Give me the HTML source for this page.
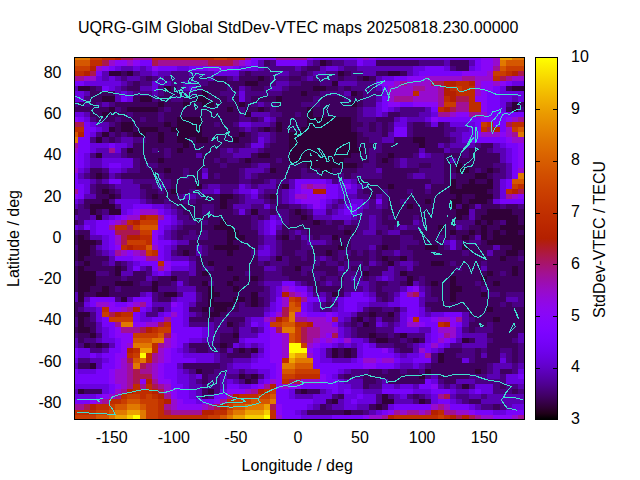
<!DOCTYPE html>
<html><head><meta charset="utf-8">
<style>
html,body{margin:0;padding:0;background:#fff;}
body{width:640px;height:480px;position:relative;overflow:hidden;font-family:"Liberation Sans",sans-serif;font-size:16px;color:#000;}
.t{position:absolute;white-space:nowrap;line-height:16px;height:16px;}
.yl{left:0;width:61.5px;text-align:right;}
.xl{width:60px;margin-left:-30px;text-align:center;top:430px;}
.cl{left:571px;}
#plot{position:absolute;left:74px;top:57px;width:449px;height:361px;border:1px solid #000;background:#3a0a8a;overflow:hidden;}
#plot svg{position:absolute;left:0;top:0;}
#cb{position:absolute;left:535px;top:57px;width:21px;height:361px;border:1px solid #000;}
.ct{position:absolute;width:4px;height:1px;background:#000;}
</style></head><body>
<div class="t" id="title" style="left:78px;top:20px;letter-spacing:0.04px;">UQRG-GIM Global StdDev-VTEC maps 20250818.230.00000</div>

<div class="t yl" style="top:394.8px">-80</div>
<div class="t yl" style="top:353.6px">-60</div>
<div class="t yl" style="top:312.3px">-40</div>
<div class="t yl" style="top:271.1px">-20</div>
<div class="t yl" style="top:229.9px">0</div>
<div class="t yl" style="top:188.6px">20</div>
<div class="t yl" style="top:147.4px">40</div>
<div class="t yl" style="top:106.2px">60</div>
<div class="t yl" style="top:64.9px">80</div>
<div class="t xl" style="left:111.7px">-150</div>
<div class="t xl" style="left:173.8px">-100</div>
<div class="t xl" style="left:235.9px">-50</div>
<div class="t xl" style="left:297.9px">0</div>
<div class="t xl" style="left:360.0px">50</div>
<div class="t xl" style="left:422.1px">100</div>
<div class="t xl" style="left:484.2px">150</div>
<div class="t cl" style="top:410.9px">3</div>
<div class="t cl" style="top:359.2px">4</div>
<div class="t cl" style="top:307.5px">5</div>
<div class="t cl" style="top:255.8px">6</div>
<div class="t cl" style="top:204.1px">7</div>
<div class="t cl" style="top:152.4px">8</div>
<div class="t cl" style="top:100.7px">9</div>
<div class="t cl" style="top:49.0px">10</div>
<div id="plot"><svg width="449" height="361" viewBox="0 0 449 361" shape-rendering="crispEdges">
<path fill="#300038" d="M245 2h6v6h-6zM34 13h12v5h-12zM52 13h6v5h-6zM263 13h6v5h-6zM313 13h12v5h-12zM183 18h6v5h-6zM288 18h6v5h-6zM170 23h13v5h-13zM257 23h6v5h-6zM3 28h12v5h-12zM89 28h7v5h-7zM238 28h13v5h-13zM437 28h12v5h-12zM127 33h6v5h-6zM226 33h6v5h-6zM276 33h6v5h-6zM27 38h13v6h-13zM65 38h12v6h-12zM121 38h12v6h-12zM201 38h6v6h-6zM83 44h6v5h-6zM108 44h6v5h-6zM127 44h12v5h-12zM164 44h6v5h-6zM276 44h6v5h-6zM437 44h6v5h-6zM34 49h6v5h-6zM52 49h31v5h-31zM152 49h6v5h-6zM183 49h6v5h-6zM232 49h6v5h-6zM437 49h6v5h-6zM27 54h7v5h-7zM170 54h6v5h-6zM232 54h6v5h-6zM102 59h25v5h-25zM232 59h44v5h-44zM46 64h12v5h-12zM89 64h7v5h-7zM102 64h25v5h-25zM201 64h6v5h-6zM232 64h44v5h-44zM34 69h6v5h-6zM46 69h12v5h-12zM65 69h18v5h-18zM96 69h31v5h-31zM189 69h6v5h-6zM201 69h6v5h-6zM226 69h50v5h-50zM27 74h7v5h-7zM58 74h13v5h-13zM83 74h6v5h-6zM102 74h25v5h-25zM164 74h6v5h-6zM214 74h68v5h-68zM21 79h6v6h-6zM83 79h6v6h-6zM102 79h12v6h-12zM121 79h12v6h-12zM158 79h6v6h-6zM214 79h68v6h-68zM338 79h12v6h-12zM108 85h6v5h-6zM214 85h68v5h-68zM344 85h6v5h-6zM52 90h6v5h-6zM102 90h6v5h-6zM214 90h74v5h-74zM21 95h6v5h-6zM183 95h12v5h-12zM214 95h62v5h-62zM313 95h6v5h-6zM83 100h6v5h-6zM170 100h6v5h-6zM214 100h55v5h-55zM307 100h6v5h-6zM232 105h50v5h-50zM381 105h6v5h-6zM89 110h7v5h-7zM195 110h6v5h-6zM245 110h12v5h-12zM381 110h13v5h-13zM412 110h6v5h-6zM21 115h6v6h-6zM400 115h12v6h-12zM375 121h6v5h-6zM394 121h6v5h-6zM412 121h6v5h-6zM121 126h6v5h-6zM207 126h7v5h-7zM313 126h6v5h-6zM375 126h6v5h-6zM387 126h31v5h-31zM27 131h7v5h-7zM96 131h6v5h-6zM375 131h37v5h-37zM34 136h6v5h-6zM77 136h6v5h-6zM145 136h13v5h-13zM195 136h6v5h-6zM381 136h6v5h-6zM400 136h18v5h-18zM27 141h7v5h-7zM145 141h7v5h-7zM350 141h6v5h-6zM375 141h12v5h-12zM394 141h18v5h-18zM15 146h25v5h-25zM145 146h7v5h-7zM332 146h6v5h-6zM375 146h6v5h-6zM387 146h7v5h-7zM15 151h6v6h-6zM34 151h12v6h-12zM176 151h7v6h-7zM220 151h6v6h-6zM381 151h13v6h-13zM412 151h25v6h-25zM21 157h6v5h-6zM226 157h6v5h-6zM381 157h6v5h-6zM406 157h37v5h-37zM145 162h7v5h-7zM238 162h7v5h-7zM400 162h6v5h-6zM412 162h6v5h-6zM431 162h12v5h-12zM139 167h19v5h-19zM363 167h6v5h-6zM406 167h6v5h-6zM425 167h24v5h-24zM152 172h12v5h-12zM269 172h7v5h-7zM375 172h6v5h-6zM394 172h6v5h-6zM406 172h6v5h-6zM418 172h7v5h-7zM431 172h12v5h-12zM3 177h6v5h-6zM152 177h18v5h-18zM207 177h7v5h-7zM257 177h6v5h-6zM387 177h7v5h-7zM406 177h6v5h-6zM418 177h31v5h-31zM3 182h18v5h-18zM152 182h6v5h-6zM412 182h37v5h-37zM3 187h12v5h-12zM139 187h25v5h-25zM263 187h6v5h-6zM307 187h6v5h-6zM350 187h13v5h-13zM387 187h7v5h-7zM437 187h12v5h-12zM3 192h12v6h-12zM108 192h6v6h-6zM152 192h6v6h-6zM251 192h6v6h-6zM431 192h12v6h-12zM3 198h6v5h-6zM201 198h6v5h-6zM307 198h6v5h-6zM325 198h7v5h-7zM425 198h6v5h-6zM9 203h6v5h-6zM133 203h6v5h-6zM313 203h6v5h-6zM356 203h13v5h-13zM3 208h6v5h-6zM40 208h6v5h-6zM152 208h6v5h-6zM220 208h6v5h-6zM437 208h6v5h-6zM3 213h18v5h-18zM40 213h6v5h-6zM127 213h6v5h-6zM288 213h6v5h-6zM325 213h7v5h-7zM412 213h6v5h-6zM437 213h6v5h-6zM3 218h18v5h-18zM96 218h6v5h-6zM158 218h6v5h-6zM176 218h7v5h-7zM332 218h6v5h-6zM375 218h6v5h-6zM406 218h6v5h-6zM3 223h18v5h-18zM40 223h18v5h-18zM77 223h6v5h-6zM127 223h6v5h-6zM152 223h6v5h-6zM332 223h6v5h-6zM356 223h7v5h-7zM375 223h6v5h-6zM418 223h7v5h-7zM3 228h12v6h-12zM27 228h7v6h-7zM77 228h6v6h-6zM133 228h6v6h-6zM158 228h6v6h-6zM375 228h12v6h-12zM3 234h6v5h-6zM21 234h13v5h-13zM89 234h13v5h-13zM133 234h12v5h-12zM176 234h7v5h-7zM257 234h6v5h-6zM375 234h6v5h-6zM406 234h6v5h-6zM3 239h6v5h-6zM46 239h6v5h-6zM133 239h6v5h-6zM158 239h12v5h-12zM176 239h7v5h-7zM375 239h6v5h-6zM133 244h25v5h-25zM176 244h7v5h-7zM127 249h6v5h-6zM139 249h13v5h-13zM412 249h6v5h-6zM3 254h12v5h-12zM133 254h12v5h-12zM294 254h7v5h-7zM313 254h6v5h-6zM3 259h6v5h-6zM282 259h6v5h-6zM418 259h7v5h-7zM3 264h6v5h-6zM152 264h6v5h-6zM288 264h6v5h-6zM3 269h12v6h-12zM15 275h6v5h-6zM158 275h6v5h-6zM294 275h7v5h-7zM325 275h7v5h-7zM301 280h12v5h-12zM338 280h6v5h-6zM387 280h7v5h-7zM9 285h6v5h-6zM21 285h6v5h-6zM145 285h7v5h-7zM164 290h6v5h-6zM176 290h7v5h-7zM257 290h6v5h-6zM269 290h7v5h-7zM257 295h6v5h-6zM269 295h7v5h-7zM363 295h6v5h-6zM363 300h6v5h-6zM15 305h6v6h-6zM121 311h6v5h-6zM350 311h6v5h-6zM400 311h6v5h-6zM164 316h6v5h-6zM176 316h7v5h-7zM344 316h6v5h-6zM170 321h6v5h-6zM387 326h7v5h-7zM3 331h6v5h-6zM133 331h6v5h-6zM226 331h6v5h-6zM307 336h6v5h-6zM257 341h6v5h-6zM307 341h12v5h-12zM344 341h6v5h-6zM301 346h6v6h-6zM269 352h7v5h-7z"/>
<path fill="#3e005e" d="M189 2h6v6h-6zM251 2h6v6h-6zM301 2h43v6h-43zM375 2h19v6h-19zM232 8h13v5h-13zM381 8h13v5h-13zM46 13h6v5h-6zM170 13h6v5h-6zM226 13h6v5h-6zM269 13h7v5h-7zM301 13h12v5h-12zM325 13h7v5h-7zM71 18h6v5h-6zM139 18h13v5h-13zM164 18h19v5h-19zM189 18h6v5h-6zM214 18h12v5h-12zM263 18h6v5h-6zM282 18h6v5h-6zM294 18h7v5h-7zM58 23h7v5h-7zM133 23h37v5h-37zM183 23h12v5h-12zM226 23h19v5h-19zM15 28h6v5h-6zM52 28h13v5h-13zM96 28h6v5h-6zM127 28h25v5h-25zM158 28h6v5h-6zM176 28h13v5h-13zM214 28h24v5h-24zM251 28h12v5h-12zM269 28h7v5h-7zM431 28h6v5h-6zM15 33h25v5h-25zM89 33h19v5h-19zM121 33h6v5h-6zM133 33h12v5h-12zM207 33h19v5h-19zM232 33h13v5h-13zM282 33h6v5h-6zM15 38h12v6h-12zM58 38h7v6h-7zM83 38h13v6h-13zM108 38h13v6h-13zM133 38h19v6h-19zM158 38h6v6h-6zM176 38h25v6h-25zM207 38h31v6h-31zM245 38h24v6h-24zM276 38h12v6h-12zM3 44h6v5h-6zM15 44h6v5h-6zM40 44h43v5h-43zM89 44h19v5h-19zM114 44h13v5h-13zM139 44h25v5h-25zM170 44h6v5h-6zM201 44h25v5h-25zM245 44h31v5h-31zM282 44h6v5h-6zM443 44h6v5h-6zM0 49h34v5h-34zM46 49h6v5h-6zM83 49h6v5h-6zM96 49h56v5h-56zM158 49h6v5h-6zM170 49h13v5h-13zM189 49h6v5h-6zM201 49h31v5h-31zM238 49h44v5h-44zM431 49h6v5h-6zM15 54h12v5h-12zM34 54h18v5h-18zM58 54h25v5h-25zM89 54h75v5h-75zM207 54h13v5h-13zM226 54h6v5h-6zM238 54h44v5h-44zM313 54h12v5h-12zM21 59h19v5h-19zM46 59h19v5h-19zM71 59h12v5h-12zM89 59h13v5h-13zM127 59h37v5h-37zM176 59h7v5h-7zM201 59h31v5h-31zM276 59h6v5h-6zM301 59h18v5h-18zM40 64h6v5h-6zM58 64h31v5h-31zM96 64h6v5h-6zM127 64h12v5h-12zM145 64h13v5h-13zM207 64h25v5h-25zM276 64h12v5h-12zM294 64h7v5h-7zM307 64h6v5h-6zM338 64h12v5h-12zM363 64h6v5h-6zM40 69h6v5h-6zM58 69h7v5h-7zM83 69h13v5h-13zM127 69h37v5h-37zM183 69h6v5h-6zM195 69h6v5h-6zM207 69h19v5h-19zM276 69h6v5h-6zM294 69h7v5h-7zM307 69h6v5h-6zM338 69h31v5h-31zM40 74h6v5h-6zM52 74h6v5h-6zM71 74h12v5h-12zM89 74h13v5h-13zM127 74h37v5h-37zM170 74h6v5h-6zM201 74h13v5h-13zM282 74h6v5h-6zM307 74h6v5h-6zM338 74h31v5h-31zM34 79h6v6h-6zM71 79h12v6h-12zM89 79h13v6h-13zM114 79h7v6h-7zM133 79h25v6h-25zM164 79h12v6h-12zM201 79h13v6h-13zM282 79h12v6h-12zM319 79h19v6h-19zM350 79h25v6h-25zM58 85h50v5h-50zM114 85h56v5h-56zM195 85h19v5h-19zM282 85h19v5h-19zM307 85h37v5h-37zM350 85h13v5h-13zM406 85h12v5h-12zM58 90h19v5h-19zM83 90h6v5h-6zM96 90h6v5h-6zM108 90h37v5h-37zM189 90h25v5h-25zM288 90h6v5h-6zM307 90h37v5h-37zM350 90h19v5h-19zM394 90h18v5h-18zM52 95h37v5h-37zM96 95h25v5h-25zM127 95h18v5h-18zM176 95h7v5h-7zM195 95h19v5h-19zM276 95h18v5h-18zM301 95h12v5h-12zM319 95h19v5h-19zM369 95h18v5h-18zM394 95h31v5h-31zM65 100h18v5h-18zM89 100h50v5h-50zM145 100h7v5h-7zM164 100h6v5h-6zM176 100h25v5h-25zM207 100h7v5h-7zM269 100h25v5h-25zM301 100h6v5h-6zM313 100h6v5h-6zM369 100h6v5h-6zM381 100h44v5h-44zM65 105h6v5h-6zM83 105h62v5h-62zM152 105h24v5h-24zM195 105h37v5h-37zM282 105h6v5h-6zM301 105h18v5h-18zM344 105h12v5h-12zM369 105h12v5h-12zM387 105h31v5h-31zM15 110h12v5h-12zM65 110h24v5h-24zM96 110h12v5h-12zM114 110h13v5h-13zM133 110h31v5h-31zM201 110h25v5h-25zM232 110h13v5h-13zM257 110h25v5h-25zM307 110h37v5h-37zM369 110h12v5h-12zM394 110h6v5h-6zM406 110h6v5h-6zM418 110h7v5h-7zM15 115h6v6h-6zM27 115h7v6h-7zM46 115h37v6h-37zM89 115h19v6h-19zM114 115h13v6h-13zM133 115h6v6h-6zM145 115h19v6h-19zM183 115h43v6h-43zM245 115h18v6h-18zM269 115h7v6h-7zM307 115h25v6h-25zM369 115h6v6h-6zM381 115h19v6h-19zM412 115h6v6h-6zM96 121h68v5h-68zM176 121h13v5h-13zM282 121h74v5h-74zM369 121h6v5h-6zM381 121h13v5h-13zM400 121h12v5h-12zM21 126h13v5h-13zM65 126h12v5h-12zM96 126h25v5h-25zM201 126h6v5h-6zM294 126h19v5h-19zM319 126h31v5h-31zM356 126h19v5h-19zM381 126h6v5h-6zM21 131h6v5h-6zM34 131h6v5h-6zM71 131h12v5h-12zM89 131h7v5h-7zM102 131h12v5h-12zM288 131h19v5h-19zM313 131h19v5h-19zM338 131h12v5h-12zM356 131h19v5h-19zM412 131h6v5h-6zM21 136h13v5h-13zM40 136h6v5h-6zM71 136h6v5h-6zM83 136h19v5h-19zM127 136h18v5h-18zM158 136h6v5h-6zM189 136h6v5h-6zM294 136h7v5h-7zM313 136h68v5h-68zM387 136h13v5h-13zM9 141h18v5h-18zM77 141h12v5h-12zM96 141h12v5h-12zM121 141h24v5h-24zM152 141h12v5h-12zM195 141h6v5h-6zM313 141h12v5h-12zM332 141h18v5h-18zM356 141h19v5h-19zM387 141h7v5h-7zM412 141h6v5h-6zM9 146h6v5h-6zM102 146h25v5h-25zM139 146h6v5h-6zM152 146h6v5h-6zM201 146h13v5h-13zM313 146h19v5h-19zM338 146h37v5h-37zM394 146h6v5h-6zM406 146h19v5h-19zM431 146h12v5h-12zM0 151h3v6h-3zM21 151h6v6h-6zM108 151h19v6h-19zM139 151h19v6h-19zM195 151h6v6h-6zM214 151h6v6h-6zM226 151h6v6h-6zM307 151h74v6h-74zM400 151h12v6h-12zM437 151h12v6h-12zM114 157h62v5h-62zM183 157h6v5h-6zM214 157h12v5h-12zM232 157h6v5h-6zM307 157h6v5h-6zM319 157h19v5h-19zM344 157h37v5h-37zM387 157h7v5h-7zM400 157h6v5h-6zM443 157h6v5h-6zM0 162h3v5h-3zM121 162h6v5h-6zM133 162h12v5h-12zM152 162h24v5h-24zM214 162h24v5h-24zM245 162h6v5h-6zM257 162h12v5h-12zM307 162h31v5h-31zM350 162h31v5h-31zM406 162h6v5h-6zM418 162h7v5h-7zM443 162h6v5h-6zM108 167h31v5h-31zM158 167h18v5h-18zM207 167h56v5h-56zM269 167h13v5h-13zM313 167h6v5h-6zM350 167h13v5h-13zM369 167h12v5h-12zM394 167h12v5h-12zM412 167h13v5h-13zM3 172h12v5h-12zM102 172h12v5h-12zM121 172h6v5h-6zM133 172h19v5h-19zM164 172h19v5h-19zM207 172h7v5h-7zM232 172h37v5h-37zM276 172h6v5h-6zM301 172h6v5h-6zM325 172h50v5h-50zM381 172h13v5h-13zM400 172h6v5h-6zM412 172h6v5h-6zM425 172h6v5h-6zM443 172h6v5h-6zM0 177h3v5h-3zM9 177h6v5h-6zM102 177h6v5h-6zM133 177h19v5h-19zM170 177h13v5h-13zM201 177h6v5h-6zM220 177h6v5h-6zM238 177h7v5h-7zM263 177h13v5h-13zM307 177h18v5h-18zM338 177h25v5h-25zM369 177h6v5h-6zM381 177h6v5h-6zM394 177h6v5h-6zM412 177h6v5h-6zM0 182h3v5h-3zM21 182h6v5h-6zM114 182h38v5h-38zM158 182h25v5h-25zM207 182h19v5h-19zM257 182h19v5h-19zM307 182h18v5h-18zM344 182h25v5h-25zM387 182h7v5h-7zM406 182h6v5h-6zM15 187h6v5h-6zM102 187h19v5h-19zM133 187h6v5h-6zM164 187h19v5h-19zM207 187h19v5h-19zM238 187h25v5h-25zM269 187h7v5h-7zM301 187h6v5h-6zM313 187h12v5h-12zM332 187h18v5h-18zM363 187h6v5h-6zM394 187h24v5h-24zM425 187h12v5h-12zM0 192h3v6h-3zM15 192h6v6h-6zM102 192h6v6h-6zM114 192h7v6h-7zM133 192h19v6h-19zM158 192h18v6h-18zM207 192h13v6h-13zM232 192h19v6h-19zM257 192h6v6h-6zM276 192h6v6h-6zM288 192h6v6h-6zM301 192h6v6h-6zM338 192h49v6h-49zM394 192h18v6h-18zM418 192h13v6h-13zM443 192h6v6h-6zM0 198h3v5h-3zM9 198h25v5h-25zM121 198h62v5h-62zM214 198h12v5h-12zM232 198h6v5h-6zM257 198h6v5h-6zM269 198h25v5h-25zM301 198h6v5h-6zM313 198h12v5h-12zM338 198h87v5h-87zM431 198h12v5h-12zM3 203h6v5h-6zM15 203h12v5h-12zM40 203h6v5h-6zM121 203h12v5h-12zM139 203h44v5h-44zM189 203h6v5h-6zM214 203h24v5h-24zM245 203h6v5h-6zM263 203h6v5h-6zM288 203h6v5h-6zM307 203h6v5h-6zM344 203h12v5h-12zM369 203h6v5h-6zM381 203h25v5h-25zM412 203h37v5h-37zM0 208h3v5h-3zM9 208h31v5h-31zM46 208h6v5h-6zM121 208h6v5h-6zM139 208h13v5h-13zM158 208h31v5h-31zM207 208h13v5h-13zM238 208h25v5h-25zM276 208h12v5h-12zM294 208h19v5h-19zM338 208h43v5h-43zM387 208h19v5h-19zM412 208h25v5h-25zM443 208h6v5h-6zM0 213h3v5h-3zM34 213h6v5h-6zM58 213h13v5h-13zM121 213h6v5h-6zM133 213h37v5h-37zM176 213h13v5h-13zM207 213h19v5h-19zM232 213h6v5h-6zM251 213h12v5h-12zM294 213h13v5h-13zM332 213h80v5h-80zM418 213h7v5h-7zM431 213h6v5h-6zM443 213h6v5h-6zM0 218h3v5h-3zM21 218h25v5h-25zM52 218h19v5h-19zM83 218h13v5h-13zM114 218h44v5h-44zM164 218h12v5h-12zM183 218h6v5h-6zM214 218h24v5h-24zM245 218h6v5h-6zM263 218h6v5h-6zM288 218h6v5h-6zM338 218h6v5h-6zM350 218h25v5h-25zM381 218h25v5h-25zM412 218h37v5h-37zM0 223h3v5h-3zM21 223h19v5h-19zM58 223h7v5h-7zM83 223h13v5h-13zM114 223h13v5h-13zM139 223h13v5h-13zM158 223h25v5h-25zM232 223h13v5h-13zM301 223h12v5h-12zM325 223h7v5h-7zM350 223h6v5h-6zM363 223h12v5h-12zM381 223h19v5h-19zM406 223h12v5h-12zM425 223h24v5h-24zM0 228h3v6h-3zM15 228h12v6h-12zM34 228h6v6h-6zM46 228h31v6h-31zM121 228h12v6h-12zM139 228h19v6h-19zM164 228h25v6h-25zM238 228h31v6h-31zM301 228h6v6h-6zM356 228h19v6h-19zM387 228h19v6h-19zM412 228h37v6h-37zM9 234h12v5h-12zM34 234h31v5h-31zM83 234h6v5h-6zM127 234h6v5h-6zM145 234h31v5h-31zM263 234h6v5h-6zM301 234h12v5h-12zM356 234h19v5h-19zM381 234h25v5h-25zM425 234h6v5h-6zM83 239h13v5h-13zM127 239h6v5h-6zM139 239h19v5h-19zM170 239h6v5h-6zM183 239h6v5h-6zM307 239h6v5h-6zM363 239h12v5h-12zM381 239h50v5h-50zM0 244h9v5h-9zM121 244h12v5h-12zM158 244h6v5h-6zM170 244h6v5h-6zM183 244h6v5h-6zM251 244h6v5h-6zM350 244h75v5h-75zM431 244h6v5h-6zM0 249h3v5h-3zM83 249h6v5h-6zM114 249h13v5h-13zM133 249h6v5h-6zM152 249h12v5h-12zM294 249h13v5h-13zM319 249h6v5h-6zM356 249h56v5h-56zM418 249h31v5h-31zM0 254h3v5h-3zM127 254h6v5h-6zM145 254h7v5h-7zM282 254h12v5h-12zM301 254h12v5h-12zM394 254h55v5h-55zM9 259h6v5h-6zM114 259h25v5h-25zM152 259h18v5h-18zM276 259h6v5h-6zM294 259h7v5h-7zM307 259h12v5h-12zM400 259h18v5h-18zM425 259h24v5h-24zM9 264h12v5h-12zM158 264h6v5h-6zM276 264h6v5h-6zM294 264h7v5h-7zM394 264h18v5h-18zM418 264h31v5h-31zM0 269h3v6h-3zM15 269h6v6h-6zM158 269h6v6h-6zM282 269h19v6h-19zM394 269h6v6h-6zM418 269h31v6h-31zM3 275h12v5h-12zM145 275h13v5h-13zM282 275h12v5h-12zM301 275h12v5h-12zM319 275h6v5h-6zM412 275h31v5h-31zM3 280h6v5h-6zM145 280h19v5h-19zM294 280h7v5h-7zM313 280h12v5h-12zM332 280h6v5h-6zM344 280h6v5h-6zM394 280h6v5h-6zM418 280h19v5h-19zM15 285h6v5h-6zM27 285h7v5h-7zM114 285h19v5h-19zM139 285h6v5h-6zM152 285h6v5h-6zM319 285h13v5h-13zM412 285h31v5h-31zM121 290h12v5h-12zM145 290h7v5h-7zM158 290h6v5h-6zM170 290h6v5h-6zM263 290h6v5h-6zM276 290h6v5h-6zM325 290h13v5h-13zM369 290h18v5h-18zM400 290h6v5h-6zM412 290h13v5h-13zM437 290h6v5h-6zM152 295h24v5h-24zM263 295h6v5h-6zM276 295h6v5h-6zM369 295h12v5h-12zM400 295h6v5h-6zM412 295h13v5h-13zM437 295h6v5h-6zM369 300h18v5h-18zM400 300h25v5h-25zM437 300h6v5h-6zM3 305h12v6h-12zM108 305h37v6h-37zM356 305h56v6h-56zM127 311h12v5h-12zM294 311h13v5h-13zM313 311h12v5h-12zM332 311h12v5h-12zM356 311h44v5h-44zM406 311h6v5h-6zM425 311h12v5h-12zM127 316h6v5h-6zM170 316h6v5h-6zM269 316h7v5h-7zM288 316h56v5h-56zM363 316h31v5h-31zM127 321h6v5h-6zM176 321h7v5h-7zM288 321h13v5h-13zM313 321h37v5h-37zM369 321h12v5h-12zM288 326h6v5h-6zM425 326h6v5h-6zM9 331h18v5h-18zM127 331h6v5h-6zM220 331h6v5h-6zM232 331h13v5h-13zM437 331h6v5h-6zM127 336h6v5h-6zM263 336h6v5h-6zM338 336h6v5h-6zM251 341h6v5h-6zM350 341h6v5h-6zM394 341h12v5h-12zM245 346h6v6h-6zM294 346h7v6h-7zM307 346h6v6h-6zM418 346h7v6h-7zM232 352h37v5h-37zM276 352h12v5h-12z"/>
<path fill="#4a0082" d="M195 2h6v6h-6zM238 2h7v6h-7zM257 2h12v6h-12zM344 2h25v6h-25zM189 8h31v5h-31zM226 8h6v5h-6zM269 8h13v5h-13zM375 8h6v5h-6zM58 13h7v5h-7zM96 13h18v5h-18zM164 13h6v5h-6zM176 13h25v5h-25zM214 13h12v5h-12zM232 13h6v5h-6zM251 13h12v5h-12zM276 13h12v5h-12zM46 18h6v5h-6zM65 18h6v5h-6zM77 18h6v5h-6zM89 18h44v5h-44zM152 18h6v5h-6zM195 18h19v5h-19zM226 18h6v5h-6zM238 18h25v5h-25zM269 18h13v5h-13zM52 23h6v5h-6zM65 23h12v5h-12zM96 23h12v5h-12zM121 23h12v5h-12zM195 23h6v5h-6zM214 23h12v5h-12zM245 23h12v5h-12zM282 23h19v5h-19zM21 28h6v5h-6zM46 28h6v5h-6zM83 28h6v5h-6zM102 28h6v5h-6zM121 28h6v5h-6zM152 28h6v5h-6zM170 28h6v5h-6zM189 28h6v5h-6zM207 28h7v5h-7zM263 28h6v5h-6zM276 28h25v5h-25zM58 33h19v5h-19zM83 33h6v5h-6zM108 33h13v5h-13zM145 33h19v5h-19zM170 33h37v5h-37zM245 33h24v5h-24zM288 33h19v5h-19zM9 38h6v6h-6zM77 38h6v6h-6zM96 38h12v6h-12zM152 38h6v6h-6zM170 38h6v6h-6zM238 38h7v6h-7zM269 38h7v6h-7zM288 38h13v6h-13zM0 44h3v5h-3zM9 44h6v5h-6zM21 44h6v5h-6zM34 44h6v5h-6zM176 44h7v5h-7zM189 44h12v5h-12zM226 44h19v5h-19zM288 44h13v5h-13zM431 44h6v5h-6zM40 49h6v5h-6zM89 49h7v5h-7zM164 49h6v5h-6zM195 49h6v5h-6zM282 49h6v5h-6zM325 49h25v5h-25zM443 49h6v5h-6zM52 54h6v5h-6zM83 54h6v5h-6zM164 54h6v5h-6zM195 54h12v5h-12zM220 54h6v5h-6zM282 54h6v5h-6zM325 54h19v5h-19zM15 59h6v5h-6zM40 59h6v5h-6zM65 59h6v5h-6zM83 59h6v5h-6zM164 59h12v5h-12zM183 59h6v5h-6zM282 59h19v5h-19zM34 64h6v5h-6zM139 64h6v5h-6zM158 64h6v5h-6zM195 64h6v5h-6zM288 64h6v5h-6zM301 64h6v5h-6zM313 64h6v5h-6zM332 64h6v5h-6zM350 64h6v5h-6zM369 64h6v5h-6zM164 69h6v5h-6zM176 69h7v5h-7zM282 69h12v5h-12zM301 69h6v5h-6zM313 69h6v5h-6zM332 69h6v5h-6zM369 69h12v5h-12zM21 74h6v5h-6zM34 74h6v5h-6zM46 74h6v5h-6zM176 74h7v5h-7zM195 74h6v5h-6zM288 74h19v5h-19zM332 74h6v5h-6zM369 74h6v5h-6zM15 79h6v6h-6zM27 79h7v6h-7zM40 79h6v6h-6zM58 79h13v6h-13zM176 79h7v6h-7zM195 79h6v6h-6zM294 79h13v6h-13zM375 79h6v6h-6zM170 85h6v5h-6zM189 85h6v5h-6zM301 85h6v5h-6zM369 85h6v5h-6zM400 85h6v5h-6zM46 90h6v5h-6zM77 90h6v5h-6zM89 90h7v5h-7zM145 90h7v5h-7zM158 90h6v5h-6zM183 90h6v5h-6zM294 90h13v5h-13zM375 90h19v5h-19zM412 90h6v5h-6zM15 95h6v5h-6zM46 95h6v5h-6zM89 95h7v5h-7zM145 95h13v5h-13zM294 95h7v5h-7zM338 95h6v5h-6zM356 95h13v5h-13zM387 95h7v5h-7zM58 100h7v5h-7zM139 100h6v5h-6zM152 100h12v5h-12zM201 100h6v5h-6zM294 100h7v5h-7zM319 100h6v5h-6zM332 100h37v5h-37zM58 105h7v5h-7zM71 105h12v5h-12zM145 105h7v5h-7zM176 105h7v5h-7zM288 105h13v5h-13zM319 105h6v5h-6zM332 105h12v5h-12zM356 105h13v5h-13zM418 105h13v5h-13zM27 110h7v5h-7zM52 110h13v5h-13zM108 110h6v5h-6zM164 110h6v5h-6zM189 110h6v5h-6zM226 110h6v5h-6zM282 110h19v5h-19zM344 110h25v5h-25zM400 110h6v5h-6zM425 110h6v5h-6zM9 115h6v6h-6zM40 115h6v6h-6zM83 115h6v6h-6zM108 115h6v6h-6zM139 115h6v6h-6zM164 115h6v6h-6zM176 115h7v6h-7zM226 115h19v6h-19zM263 115h6v6h-6zM276 115h31v6h-31zM332 115h6v6h-6zM350 115h19v6h-19zM375 115h6v6h-6zM418 115h13v6h-13zM21 121h6v5h-6zM58 121h38v5h-38zM164 121h12v5h-12zM189 121h6v5h-6zM201 121h13v5h-13zM257 121h6v5h-6zM356 121h13v5h-13zM418 121h7v5h-7zM15 126h6v5h-6zM34 126h6v5h-6zM77 126h6v5h-6zM89 126h7v5h-7zM127 126h6v5h-6zM145 126h19v5h-19zM176 126h7v5h-7zM288 126h6v5h-6zM418 126h7v5h-7zM15 131h6v5h-6zM40 131h6v5h-6zM65 131h6v5h-6zM83 131h6v5h-6zM114 131h13v5h-13zM145 131h13v5h-13zM189 131h18v5h-18zM282 131h6v5h-6zM307 131h6v5h-6zM332 131h6v5h-6zM350 131h6v5h-6zM418 131h7v5h-7zM65 136h6v5h-6zM102 136h6v5h-6zM121 136h6v5h-6zM164 136h6v5h-6zM183 136h6v5h-6zM201 136h6v5h-6zM282 136h12v5h-12zM307 136h6v5h-6zM418 136h7v5h-7zM34 141h6v5h-6zM71 141h6v5h-6zM89 141h7v5h-7zM108 141h13v5h-13zM164 141h6v5h-6zM189 141h6v5h-6zM201 141h6v5h-6zM263 141h6v5h-6zM294 141h7v5h-7zM307 141h6v5h-6zM325 141h7v5h-7zM3 146h6v5h-6zM40 146h6v5h-6zM96 146h6v5h-6zM127 146h12v5h-12zM176 146h13v5h-13zM195 146h6v5h-6zM214 146h12v5h-12zM257 146h6v5h-6zM294 146h7v5h-7zM307 146h6v5h-6zM381 146h6v5h-6zM425 146h6v5h-6zM443 146h6v5h-6zM3 151h12v6h-12zM27 151h7v6h-7zM102 151h6v6h-6zM127 151h12v6h-12zM158 151h6v6h-6zM170 151h6v6h-6zM183 151h12v6h-12zM201 151h13v6h-13zM232 151h6v6h-6zM251 151h6v6h-6zM288 151h19v6h-19zM3 157h12v5h-12zM102 157h12v5h-12zM176 157h7v5h-7zM189 157h6v5h-6zM207 157h7v5h-7zM282 157h12v5h-12zM301 157h6v5h-6zM313 157h6v5h-6zM338 157h6v5h-6zM3 162h6v5h-6zM108 162h13v5h-13zM127 162h6v5h-6zM176 162h7v5h-7zM207 162h7v5h-7zM251 162h6v5h-6zM276 162h18v5h-18zM301 162h6v5h-6zM344 162h6v5h-6zM381 162h19v5h-19zM425 162h6v5h-6zM102 167h6v5h-6zM176 167h7v5h-7zM263 167h6v5h-6zM282 167h12v5h-12zM301 167h12v5h-12zM319 167h6v5h-6zM332 167h18v5h-18zM387 167h7v5h-7zM0 172h3v5h-3zM96 172h6v5h-6zM114 172h7v5h-7zM127 172h6v5h-6zM201 172h6v5h-6zM214 172h6v5h-6zM226 172h6v5h-6zM282 172h6v5h-6zM307 172h6v5h-6zM96 177h6v5h-6zM108 177h25v5h-25zM183 177h6v5h-6zM214 177h6v5h-6zM232 177h6v5h-6zM245 177h12v5h-12zM276 177h31v5h-31zM325 177h13v5h-13zM363 177h6v5h-6zM375 177h6v5h-6zM183 182h6v5h-6zM201 182h6v5h-6zM226 182h6v5h-6zM251 182h6v5h-6zM276 182h31v5h-31zM325 182h19v5h-19zM381 182h6v5h-6zM394 182h12v5h-12zM0 187h3v5h-3zM127 187h6v5h-6zM201 187h6v5h-6zM226 187h12v5h-12zM276 187h18v5h-18zM325 187h7v5h-7zM369 187h6v5h-6zM381 187h6v5h-6zM21 192h6v6h-6zM96 192h6v6h-6zM127 192h6v6h-6zM176 192h7v6h-7zM201 192h6v6h-6zM220 192h12v6h-12zM263 192h13v6h-13zM282 192h6v6h-6zM294 192h7v6h-7zM307 192h12v6h-12zM325 192h13v6h-13zM387 192h7v6h-7zM114 198h7v5h-7zM195 198h6v5h-6zM207 198h7v5h-7zM226 198h6v5h-6zM238 198h7v5h-7zM251 198h6v5h-6zM263 198h6v5h-6zM294 198h7v5h-7zM332 198h6v5h-6zM443 198h6v5h-6zM0 203h3v5h-3zM27 203h7v5h-7zM46 203h6v5h-6zM183 203h6v5h-6zM195 203h19v5h-19zM238 203h7v5h-7zM251 203h12v5h-12zM269 203h19v5h-19zM301 203h6v5h-6zM319 203h6v5h-6zM338 203h6v5h-6zM375 203h6v5h-6zM406 203h6v5h-6zM71 208h6v5h-6zM127 208h12v5h-12zM201 208h6v5h-6zM226 208h12v5h-12zM269 208h7v5h-7zM288 208h6v5h-6zM319 208h13v5h-13zM381 208h6v5h-6zM21 213h13v5h-13zM71 213h6v5h-6zM96 213h18v5h-18zM170 213h6v5h-6zM189 213h18v5h-18zM226 213h6v5h-6zM238 213h13v5h-13zM263 213h25v5h-25zM319 213h6v5h-6zM425 213h6v5h-6zM46 218h6v5h-6zM77 218h6v5h-6zM102 218h12v5h-12zM189 218h25v5h-25zM238 218h7v5h-7zM251 218h12v5h-12zM269 218h7v5h-7zM282 218h6v5h-6zM294 218h7v5h-7zM319 218h13v5h-13zM344 218h6v5h-6zM65 223h12v5h-12zM96 223h6v5h-6zM108 223h6v5h-6zM133 223h6v5h-6zM183 223h6v5h-6zM226 223h6v5h-6zM245 223h6v5h-6zM257 223h25v5h-25zM294 223h7v5h-7zM313 223h12v5h-12zM344 223h6v5h-6zM400 223h6v5h-6zM40 228h6v6h-6zM83 228h19v6h-19zM189 228h6v6h-6zM269 228h19v6h-19zM294 228h7v6h-7zM307 228h18v6h-18zM350 228h6v6h-6zM406 228h6v6h-6zM77 234h6v5h-6zM102 234h6v5h-6zM121 234h6v5h-6zM183 234h12v5h-12zM238 234h7v5h-7zM251 234h6v5h-6zM313 234h6v5h-6zM350 234h6v5h-6zM412 234h13v5h-13zM431 234h18v5h-18zM40 239h6v5h-6zM77 239h6v5h-6zM121 239h6v5h-6zM189 239h6v5h-6zM251 239h6v5h-6zM301 239h6v5h-6zM313 239h6v5h-6zM350 239h13v5h-13zM443 239h6v5h-6zM164 244h6v5h-6zM189 244h6v5h-6zM245 244h6v5h-6zM257 244h6v5h-6zM425 244h6v5h-6zM437 244h12v5h-12zM3 249h6v5h-6zM77 249h6v5h-6zM164 249h25v5h-25zM245 249h12v5h-12zM288 249h6v5h-6zM307 249h12v5h-12zM350 249h6v5h-6zM15 254h6v5h-6zM71 254h12v5h-12zM121 254h6v5h-6zM152 254h37v5h-37zM319 254h6v5h-6zM0 259h3v5h-3zM15 259h6v5h-6zM139 259h13v5h-13zM288 259h6v5h-6zM319 259h6v5h-6zM394 259h6v5h-6zM0 264h3v5h-3zM114 264h19v5h-19zM139 264h13v5h-13zM164 264h6v5h-6zM269 264h7v5h-7zM282 264h6v5h-6zM313 264h6v5h-6zM412 264h6v5h-6zM139 269h19v6h-19zM176 269h7v6h-7zM276 269h6v6h-6zM301 269h18v6h-18zM387 269h7v6h-7zM400 269h18v6h-18zM0 275h3v5h-3zM21 275h6v5h-6zM139 275h6v5h-6zM276 275h6v5h-6zM313 275h6v5h-6zM332 275h18v5h-18zM9 280h12v5h-12zM139 280h6v5h-6zM325 280h7v5h-7zM412 280h6v5h-6zM437 280h6v5h-6zM3 285h6v5h-6zM133 285h6v5h-6zM301 285h18v5h-18zM332 285h6v5h-6zM375 285h12v5h-12zM443 285h6v5h-6zM15 290h12v5h-12zM114 290h7v5h-7zM133 290h12v5h-12zM251 290h6v5h-6zM319 290h6v5h-6zM387 290h13v5h-13zM406 290h6v5h-6zM425 290h12v5h-12zM443 290h6v5h-6zM145 295h7v5h-7zM251 295h6v5h-6zM356 295h7v5h-7zM381 295h19v5h-19zM431 295h6v5h-6zM443 295h6v5h-6zM3 300h12v5h-12zM145 300h13v5h-13zM356 300h7v5h-7zM394 300h6v5h-6zM431 300h6v5h-6zM443 300h6v5h-6zM145 305h7v6h-7zM350 305h6v6h-6zM412 305h6v6h-6zM437 305h6v6h-6zM114 311h7v5h-7zM139 311h13v5h-13zM164 311h6v5h-6zM276 311h18v5h-18zM307 311h6v5h-6zM325 311h7v5h-7zM344 311h6v5h-6zM412 311h6v5h-6zM437 311h6v5h-6zM133 316h12v5h-12zM152 316h12v5h-12zM183 316h6v5h-6zM263 316h6v5h-6zM276 316h12v5h-12zM350 316h6v5h-6zM394 316h18v5h-18zM425 316h6v5h-6zM121 321h6v5h-6zM133 321h12v5h-12zM164 321h6v5h-6zM301 321h6v5h-6zM363 321h6v5h-6zM400 321h31v5h-31zM127 326h18v5h-18zM294 326h13v5h-13zM369 326h6v5h-6zM381 326h6v5h-6zM394 326h6v5h-6zM418 326h7v5h-7zM431 326h12v5h-12zM139 331h6v5h-6zM418 331h19v5h-19zM443 331h6v5h-6zM133 336h6v5h-6zM257 336h6v5h-6zM301 336h6v5h-6zM313 336h6v5h-6zM332 336h6v5h-6zM344 336h6v5h-6zM381 336h13v5h-13zM406 336h6v5h-6zM301 341h6v5h-6zM338 341h6v5h-6zM387 341h7v5h-7zM251 346h6v6h-6zM406 346h12v6h-12zM425 346h6v6h-6zM288 352h6v5h-6z"/>
<path fill="#5a00b4" d="M183 2h6v6h-6zM232 2h6v6h-6zM269 2h13v6h-13zM369 2h6v6h-6zM394 2h6v6h-6zM46 8h12v5h-12zM65 8h6v5h-6zM183 8h6v5h-6zM220 8h6v5h-6zM245 8h6v5h-6zM263 8h6v5h-6zM282 8h56v5h-56zM27 13h7v5h-7zM65 13h12v5h-12zM83 13h13v5h-13zM114 13h25v5h-25zM201 13h13v5h-13zM238 13h13v5h-13zM288 13h13v5h-13zM332 13h6v5h-6zM27 18h7v5h-7zM40 18h6v5h-6zM52 18h13v5h-13zM83 18h6v5h-6zM133 18h6v5h-6zM158 18h6v5h-6zM232 18h6v5h-6zM301 18h6v5h-6zM46 23h6v5h-6zM83 23h13v5h-13zM108 23h13v5h-13zM201 23h13v5h-13zM263 23h19v5h-19zM0 28h3v5h-3zM40 28h6v5h-6zM65 28h12v5h-12zM108 28h6v5h-6zM164 28h6v5h-6zM195 28h12v5h-12zM301 28h6v5h-6zM9 33h6v5h-6zM40 33h6v5h-6zM52 33h6v5h-6zM77 33h6v5h-6zM269 33h7v5h-7zM40 38h6v6h-6zM301 38h6v6h-6zM437 38h6v6h-6zM27 44h7v5h-7zM183 44h6v5h-6zM288 49h13v5h-13zM319 49h6v5h-6zM350 49h6v5h-6zM9 54h6v5h-6zM176 54h19v5h-19zM288 54h13v5h-13zM307 54h6v5h-6zM344 54h12v5h-12zM195 59h6v5h-6zM319 59h6v5h-6zM332 59h18v5h-18zM21 64h13v5h-13zM176 64h19v5h-19zM27 69h7v5h-7zM170 69h6v5h-6zM381 69h13v5h-13zM183 74h12v5h-12zM313 74h6v5h-6zM375 74h12v5h-12zM46 79h12v6h-12zM189 79h6v6h-6zM307 79h12v6h-12zM381 79h6v6h-6zM52 85h6v5h-6zM363 85h6v5h-6zM375 85h25v5h-25zM418 85h7v5h-7zM21 90h13v5h-13zM152 90h6v5h-6zM164 90h19v5h-19zM344 90h6v5h-6zM369 90h6v5h-6zM418 90h13v5h-13zM27 95h19v5h-19zM121 95h6v5h-6zM158 95h18v5h-18zM350 95h6v5h-6zM425 95h6v5h-6zM15 100h12v5h-12zM325 100h7v5h-7zM375 100h6v5h-6zM425 100h6v5h-6zM15 105h12v5h-12zM183 105h12v5h-12zM325 105h7v5h-7zM431 105h6v5h-6zM9 110h6v5h-6zM46 110h6v5h-6zM127 110h6v5h-6zM170 110h19v5h-19zM301 110h6v5h-6zM431 110h6v5h-6zM3 115h6v6h-6zM34 115h6v6h-6zM170 115h6v6h-6zM338 115h12v6h-12zM431 115h6v6h-6zM15 121h6v5h-6zM27 121h7v5h-7zM46 121h12v5h-12zM195 121h6v5h-6zM214 121h6v5h-6zM263 121h6v5h-6zM276 121h6v5h-6zM40 126h25v5h-25zM83 126h6v5h-6zM133 126h12v5h-12zM170 126h6v5h-6zM183 126h18v5h-18zM214 126h6v5h-6zM282 126h6v5h-6zM350 126h6v5h-6zM46 131h19v5h-19zM127 131h12v5h-12zM158 131h6v5h-6zM183 131h6v5h-6zM207 131h7v5h-7zM9 136h12v5h-12zM46 136h19v5h-19zM108 136h13v5h-13zM170 136h6v5h-6zM207 136h7v5h-7zM269 136h13v5h-13zM301 136h6v5h-6zM3 141h6v5h-6zM65 141h6v5h-6zM170 141h19v5h-19zM207 141h7v5h-7zM257 141h6v5h-6zM269 141h7v5h-7zM288 141h6v5h-6zM0 146h3v5h-3zM89 146h7v5h-7zM158 146h18v5h-18zM226 146h6v5h-6zM251 146h6v5h-6zM263 146h6v5h-6zM288 146h6v5h-6zM301 146h6v5h-6zM400 146h6v5h-6zM96 151h6v6h-6zM257 151h6v6h-6zM282 151h6v6h-6zM394 151h6v6h-6zM0 157h3v5h-3zM15 157h6v5h-6zM27 157h7v5h-7zM201 157h6v5h-6zM238 157h19v5h-19zM276 157h6v5h-6zM294 157h7v5h-7zM394 157h6v5h-6zM102 162h6v5h-6zM183 162h6v5h-6zM269 162h7v5h-7zM294 162h7v5h-7zM338 162h6v5h-6zM3 167h6v5h-6zM96 167h6v5h-6zM183 167h6v5h-6zM201 167h6v5h-6zM294 167h7v5h-7zM325 167h7v5h-7zM381 167h6v5h-6zM89 172h7v5h-7zM183 172h6v5h-6zM220 172h6v5h-6zM288 172h13v5h-13zM313 172h12v5h-12zM15 177h12v5h-12zM89 177h7v5h-7zM189 177h12v5h-12zM226 177h6v5h-6zM400 177h6v5h-6zM102 182h12v5h-12zM189 182h12v5h-12zM232 182h19v5h-19zM369 182h6v5h-6zM21 187h6v5h-6zM96 187h6v5h-6zM121 187h6v5h-6zM183 187h6v5h-6zM195 187h6v5h-6zM294 187h7v5h-7zM418 187h7v5h-7zM27 192h7v6h-7zM121 192h6v6h-6zM195 192h6v6h-6zM319 192h6v6h-6zM412 192h6v6h-6zM34 198h6v5h-6zM96 198h18v5h-18zM183 198h12v5h-12zM245 198h6v5h-6zM34 203h6v5h-6zM52 203h6v5h-6zM114 203h7v5h-7zM294 203h7v5h-7zM325 203h13v5h-13zM52 208h6v5h-6zM65 208h6v5h-6zM114 208h7v5h-7zM189 208h12v5h-12zM263 208h6v5h-6zM313 208h6v5h-6zM332 208h6v5h-6zM406 208h6v5h-6zM46 213h12v5h-12zM114 213h7v5h-7zM307 213h12v5h-12zM71 218h6v5h-6zM276 218h6v5h-6zM301 218h6v5h-6zM313 218h6v5h-6zM189 223h18v5h-18zM220 223h6v5h-6zM251 223h6v5h-6zM282 223h12v5h-12zM338 223h6v5h-6zM102 228h19v6h-19zM195 228h6v6h-6zM232 228h6v6h-6zM288 228h6v6h-6zM325 228h7v6h-7zM344 228h6v6h-6zM0 234h3v5h-3zM65 234h6v5h-6zM195 234h6v5h-6zM245 234h6v5h-6zM269 234h7v5h-7zM294 234h7v5h-7zM319 234h6v5h-6zM0 239h3v5h-3zM9 239h6v5h-6zM52 239h6v5h-6zM96 239h6v5h-6zM195 239h6v5h-6zM257 239h6v5h-6zM344 239h6v5h-6zM431 239h12v5h-12zM77 244h19v5h-19zM114 244h7v5h-7zM238 244h7v5h-7zM294 244h19v5h-19zM344 244h6v5h-6zM9 249h12v5h-12zM89 249h7v5h-7zM189 249h6v5h-6zM238 249h7v5h-7zM257 249h6v5h-6zM325 249h7v5h-7zM114 254h7v5h-7zM276 254h6v5h-6zM350 254h6v5h-6zM387 254h7v5h-7zM170 259h6v5h-6zM269 259h7v5h-7zM301 259h6v5h-6zM387 259h7v5h-7zM21 264h6v5h-6zM133 264h6v5h-6zM170 264h6v5h-6zM263 264h6v5h-6zM307 264h6v5h-6zM319 264h6v5h-6zM387 264h7v5h-7zM21 269h6v6h-6zM133 269h6v6h-6zM164 269h12v6h-12zM183 269h6v6h-6zM269 269h7v6h-7zM344 269h12v6h-12zM133 275h6v5h-6zM164 275h19v5h-19zM269 275h7v5h-7zM387 275h25v5h-25zM443 275h6v5h-6zM0 280h3v5h-3zM21 280h6v5h-6zM127 280h12v5h-12zM288 280h6v5h-6zM381 280h6v5h-6zM400 280h12v5h-12zM443 280h6v5h-6zM0 285h3v5h-3zM34 285h6v5h-6zM108 285h6v5h-6zM164 285h6v5h-6zM176 285h7v5h-7zM263 285h6v5h-6zM276 285h6v5h-6zM338 285h6v5h-6zM387 285h25v5h-25zM27 290h7v5h-7zM108 290h6v5h-6zM152 290h6v5h-6zM183 290h6v5h-6zM338 290h6v5h-6zM363 290h6v5h-6zM139 295h6v5h-6zM176 295h7v5h-7zM325 295h7v5h-7zM406 295h6v5h-6zM425 295h6v5h-6zM15 300h12v5h-12zM139 300h6v5h-6zM158 300h18v5h-18zM257 300h19v5h-19zM0 305h3v6h-3zM21 305h6v6h-6zM102 305h6v6h-6zM152 305h6v6h-6zM325 305h13v6h-13zM344 305h6v6h-6zM418 305h19v6h-19zM443 305h6v6h-6zM108 311h6v5h-6zM152 311h12v5h-12zM170 311h13v5h-13zM269 311h7v5h-7zM418 311h7v5h-7zM114 316h7v5h-7zM145 316h7v5h-7zM356 316h7v5h-7zM412 316h13v5h-13zM114 321h7v5h-7zM145 321h7v5h-7zM158 321h6v5h-6zM269 321h19v5h-19zM307 321h6v5h-6zM381 321h19v5h-19zM114 326h13v5h-13zM145 326h7v5h-7zM276 326h12v5h-12zM319 326h6v5h-6zM338 326h6v5h-6zM363 326h6v5h-6zM375 326h6v5h-6zM443 326h6v5h-6zM0 331h3v5h-3zM121 331h6v5h-6zM245 331h6v5h-6zM288 331h19v5h-19zM381 331h13v5h-13zM121 336h6v5h-6zM220 336h18v5h-18zM319 336h6v5h-6zM350 336h6v5h-6zM375 336h6v5h-6zM394 336h12v5h-12zM412 336h37v5h-37zM263 341h6v5h-6zM319 341h19v5h-19zM381 341h6v5h-6zM406 341h43v5h-43zM238 346h7v6h-7zM257 346h12v6h-12zM282 346h12v6h-12zM400 346h6v6h-6zM431 346h6v6h-6zM226 352h6v5h-6zM294 352h7v5h-7z"/>
<path fill="#6901df" d="M288 2h13v6h-13zM40 8h6v5h-6zM58 8h7v5h-7zM71 8h6v5h-6zM102 8h12v5h-12zM164 8h19v5h-19zM251 8h12v5h-12zM338 8h12v5h-12zM369 8h6v5h-6zM394 8h6v5h-6zM77 13h6v5h-6zM139 13h25v5h-25zM338 13h6v5h-6zM21 18h6v5h-6zM34 18h6v5h-6zM307 18h12v5h-12zM9 23h37v5h-37zM77 23h6v5h-6zM437 23h12v5h-12zM34 28h6v5h-6zM77 28h6v5h-6zM114 28h7v5h-7zM425 28h6v5h-6zM0 33h9v5h-9zM46 33h6v5h-6zM164 33h6v5h-6zM307 33h6v5h-6zM425 33h24v5h-24zM0 38h9v6h-9zM52 38h6v6h-6zM164 38h6v6h-6zM425 38h12v6h-12zM443 38h6v6h-6zM301 44h6v5h-6zM425 44h6v5h-6zM301 49h6v5h-6zM313 49h6v5h-6zM425 49h6v5h-6zM0 54h9v5h-9zM301 54h6v5h-6zM356 54h7v5h-7zM9 59h6v5h-6zM189 59h6v5h-6zM325 59h7v5h-7zM350 59h6v5h-6zM15 64h6v5h-6zM164 64h12v5h-12zM319 64h13v5h-13zM356 64h7v5h-7zM375 64h25v5h-25zM21 69h6v5h-6zM394 69h6v5h-6zM15 74h6v5h-6zM387 74h13v5h-13zM183 79h6v6h-6zM387 79h7v6h-7zM15 85h19v5h-19zM40 85h12v5h-12zM176 85h13v5h-13zM425 85h6v5h-6zM15 90h6v5h-6zM40 90h6v5h-6zM431 90h6v5h-6zM9 95h6v5h-6zM344 95h6v5h-6zM431 95h6v5h-6zM9 100h6v5h-6zM27 100h31v5h-31zM431 100h6v5h-6zM9 105h6v5h-6zM27 105h7v5h-7zM46 105h12v5h-12zM3 110h6v5h-6zM34 110h12v5h-12zM127 115h6v6h-6zM3 121h12v5h-12zM251 121h6v5h-6zM269 121h7v5h-7zM425 121h6v5h-6zM9 126h6v5h-6zM164 126h6v5h-6zM263 126h6v5h-6zM276 126h6v5h-6zM425 126h6v5h-6zM9 131h6v5h-6zM139 131h6v5h-6zM164 131h12v5h-12zM214 131h6v5h-6zM263 131h19v5h-19zM425 131h6v5h-6zM176 136h7v5h-7zM214 136h6v5h-6zM263 136h6v5h-6zM425 136h6v5h-6zM0 141h3v5h-3zM40 141h25v5h-25zM214 141h6v5h-6zM251 141h6v5h-6zM276 141h12v5h-12zM418 141h7v5h-7zM46 146h12v5h-12zM77 146h12v5h-12zM189 146h6v5h-6zM232 146h6v5h-6zM269 146h7v5h-7zM282 146h6v5h-6zM46 151h6v6h-6zM89 151h7v6h-7zM164 151h6v6h-6zM238 151h13v6h-13zM263 151h6v6h-6zM34 157h6v5h-6zM96 157h6v5h-6zM195 157h6v5h-6zM257 157h19v5h-19zM9 162h12v5h-12zM96 162h6v5h-6zM189 162h6v5h-6zM201 162h6v5h-6zM0 167h3v5h-3zM15 167h6v5h-6zM89 167h7v5h-7zM189 167h6v5h-6zM15 172h6v5h-6zM189 172h6v5h-6zM27 177h7v5h-7zM83 177h6v5h-6zM27 182h7v5h-7zM96 182h6v5h-6zM375 182h6v5h-6zM27 187h7v5h-7zM89 187h7v5h-7zM189 187h6v5h-6zM375 187h6v5h-6zM34 192h6v6h-6zM89 192h7v6h-7zM183 192h12v6h-12zM89 198h7v5h-7zM58 203h7v5h-7zM96 208h18v5h-18zM77 213h6v5h-6zM89 213h7v5h-7zM307 218h6v5h-6zM102 223h6v5h-6zM201 228h6v6h-6zM71 234h6v5h-6zM108 234h13v5h-13zM201 234h6v5h-6zM232 234h6v5h-6zM288 234h6v5h-6zM344 234h6v5h-6zM102 239h19v5h-19zM245 239h6v5h-6zM263 239h6v5h-6zM294 239h7v5h-7zM319 239h6v5h-6zM9 244h6v5h-6zM108 244h6v5h-6zM195 244h6v5h-6zM232 244h6v5h-6zM263 244h6v5h-6zM282 244h12v5h-12zM313 244h12v5h-12zM21 249h6v5h-6zM71 249h6v5h-6zM108 249h6v5h-6zM195 249h6v5h-6zM232 249h6v5h-6zM263 249h6v5h-6zM282 249h6v5h-6zM344 249h6v5h-6zM21 254h6v5h-6zM65 254h6v5h-6zM83 254h6v5h-6zM108 254h6v5h-6zM189 254h6v5h-6zM263 254h13v5h-13zM325 254h7v5h-7zM344 254h6v5h-6zM356 254h13v5h-13zM21 259h6v5h-6zM65 259h12v5h-12zM108 259h6v5h-6zM176 259h13v5h-13zM263 259h6v5h-6zM325 259h7v5h-7zM108 264h6v5h-6zM183 264h6v5h-6zM301 264h6v5h-6zM325 264h7v5h-7zM27 269h7v6h-7zM127 269h6v6h-6zM263 269h6v6h-6zM319 269h25v6h-25zM381 269h6v6h-6zM27 275h7v5h-7zM127 275h6v5h-6zM263 275h6v5h-6zM350 275h6v5h-6zM381 275h6v5h-6zM27 280h13v5h-13zM114 280h13v5h-13zM164 280h6v5h-6zM276 280h12v5h-12zM350 280h6v5h-6zM158 285h6v5h-6zM170 285h6v5h-6zM183 285h6v5h-6zM257 285h6v5h-6zM269 285h7v5h-7zM282 285h6v5h-6zM294 285h7v5h-7zM344 285h6v5h-6zM369 285h6v5h-6zM3 290h12v5h-12zM102 290h6v5h-6zM245 290h6v5h-6zM282 290h6v5h-6zM313 290h6v5h-6zM356 290h7v5h-7zM3 295h12v5h-12zM21 295h6v5h-6zM108 295h31v5h-31zM183 295h6v5h-6zM245 295h6v5h-6zM282 295h6v5h-6zM319 295h6v5h-6zM332 295h12v5h-12zM0 300h3v5h-3zM27 300h7v5h-7zM121 300h18v5h-18zM176 300h7v5h-7zM245 300h12v5h-12zM276 300h6v5h-6zM325 300h13v5h-13zM387 300h7v5h-7zM425 300h6v5h-6zM158 305h18v6h-18zM319 305h6v6h-6zM338 305h6v6h-6zM3 311h18v5h-18zM102 311h6v5h-6zM183 311h12v5h-12zM263 311h6v5h-6zM443 311h6v5h-6zM102 316h12v5h-12zM121 316h6v5h-6zM189 316h6v5h-6zM257 316h6v5h-6zM431 316h12v5h-12zM102 321h12v5h-12zM152 321h6v5h-6zM183 321h6v5h-6zM263 321h6v5h-6zM356 321h7v5h-7zM431 321h18v5h-18zM0 326h34v5h-34zM108 326h6v5h-6zM164 326h12v5h-12zM263 326h13v5h-13zM307 326h12v5h-12zM325 326h13v5h-13zM400 326h18v5h-18zM27 331h7v5h-7zM114 331h7v5h-7zM145 331h7v5h-7zM214 331h6v5h-6zM251 331h6v5h-6zM263 331h6v5h-6zM276 331h12v5h-12zM338 331h18v5h-18zM375 331h6v5h-6zM394 331h6v5h-6zM406 331h12v5h-12zM0 336h21v5h-21zM114 336h7v5h-7zM214 336h6v5h-6zM238 336h19v5h-19zM269 336h13v5h-13zM288 336h13v5h-13zM325 336h7v5h-7zM356 336h7v5h-7zM121 341h6v5h-6zM238 341h13v5h-13zM269 341h7v5h-7zM282 341h19v5h-19zM356 341h7v5h-7zM375 341h6v5h-6zM232 346h6v6h-6zM269 346h13v6h-13zM313 346h6v6h-6zM394 346h6v6h-6zM437 346h12v6h-12zM220 352h6v5h-6zM301 352h6v5h-6zM418 352h13v5h-13zM226 357h31v4h-31z"/>
<path fill="#7803fa" d="M238 0h44v2h-44zM301 0h105v2h-105zM65 2h12v6h-12zM176 2h7v6h-7zM201 2h31v6h-31zM282 2h6v6h-6zM400 2h6v6h-6zM34 8h6v5h-6zM83 8h19v5h-19zM114 8h19v5h-19zM158 8h6v5h-6zM350 8h19v5h-19zM400 8h6v5h-6zM21 13h6v5h-6zM344 13h43v5h-43zM319 18h13v5h-13zM0 23h9v5h-9zM301 23h6v5h-6zM431 23h6v5h-6zM27 28h7v5h-7zM307 28h6v5h-6zM418 28h7v5h-7zM412 33h13v5h-13zM46 38h6v6h-6zM307 38h6v6h-6zM412 38h13v6h-13zM307 44h6v5h-6zM325 44h13v5h-13zM412 44h13v5h-13zM307 49h6v5h-6zM356 49h7v5h-7zM412 49h13v5h-13zM412 54h37v5h-37zM3 59h6v5h-6zM363 59h43v5h-43zM418 59h13v5h-13zM9 64h6v5h-6zM400 64h6v5h-6zM418 64h13v5h-13zM9 69h12v5h-12zM319 69h13v5h-13zM400 69h6v5h-6zM425 69h6v5h-6zM9 74h6v5h-6zM319 74h13v5h-13zM3 79h12v6h-12zM394 79h37v6h-37zM3 85h12v5h-12zM34 85h6v5h-6zM431 85h12v5h-12zM3 90h12v5h-12zM437 90h6v5h-6zM3 95h6v5h-6zM437 95h6v5h-6zM3 100h6v5h-6zM437 100h6v5h-6zM3 105h6v5h-6zM34 105h12v5h-12zM437 105h6v5h-6zM437 110h6v5h-6zM0 115h3v6h-3zM437 115h6v6h-6zM0 121h3v5h-3zM34 121h12v5h-12zM220 121h31v5h-31zM431 121h6v5h-6zM0 126h9v5h-9zM220 126h6v5h-6zM251 126h12v5h-12zM431 126h6v5h-6zM3 131h6v5h-6zM176 131h7v5h-7zM220 131h6v5h-6zM251 131h12v5h-12zM3 136h6v5h-6zM251 136h12v5h-12zM220 141h6v5h-6zM245 141h6v5h-6zM301 141h6v5h-6zM425 141h24v5h-24zM58 146h19v5h-19zM245 146h6v5h-6zM276 146h6v5h-6zM52 151h6v6h-6zM83 151h6v6h-6zM269 151h13v6h-13zM40 157h6v5h-6zM89 157h7v5h-7zM21 162h13v5h-13zM83 162h13v5h-13zM195 162h6v5h-6zM9 167h6v5h-6zM21 167h13v5h-13zM83 167h6v5h-6zM195 167h6v5h-6zM21 172h19v5h-19zM83 172h6v5h-6zM195 172h6v5h-6zM34 177h6v5h-6zM34 182h6v5h-6zM83 182h13v5h-13zM34 187h6v5h-6zM83 187h6v5h-6zM83 192h6v6h-6zM40 198h18v5h-18zM83 198h6v5h-6zM65 203h18v5h-18zM96 203h18v5h-18zM58 208h7v5h-7zM77 208h6v5h-6zM83 213h6v5h-6zM207 223h13v5h-13zM220 228h12v6h-12zM332 228h6v6h-6zM276 234h12v5h-12zM325 234h7v5h-7zM15 239h25v5h-25zM58 239h19v5h-19zM201 239h6v5h-6zM232 239h13v5h-13zM269 239h25v5h-25zM325 239h19v5h-19zM15 244h6v5h-6zM40 244h12v5h-12zM71 244h6v5h-6zM102 244h6v5h-6zM201 244h6v5h-6zM226 244h6v5h-6zM269 244h13v5h-13zM325 244h19v5h-19zM65 249h6v5h-6zM96 249h12v5h-12zM201 249h6v5h-6zM226 249h6v5h-6zM269 249h13v5h-13zM332 249h12v5h-12zM58 254h7v5h-7zM89 254h7v5h-7zM102 254h6v5h-6zM195 254h6v5h-6zM232 254h19v5h-19zM257 254h6v5h-6zM332 254h12v5h-12zM369 254h18v5h-18zM27 259h7v5h-7zM58 259h7v5h-7zM77 259h12v5h-12zM96 259h12v5h-12zM344 259h12v5h-12zM27 264h13v5h-13zM96 264h12v5h-12zM176 264h7v5h-7zM189 264h6v5h-6zM257 264h6v5h-6zM350 264h13v5h-13zM381 264h6v5h-6zM34 269h6v6h-6zM96 269h31v6h-31zM189 269h6v6h-6zM356 269h7v6h-7zM34 275h6v5h-6zM102 275h25v5h-25zM183 275h12v5h-12zM356 275h7v5h-7zM40 280h6v5h-6zM102 280h12v5h-12zM170 280h25v5h-25zM263 280h6v5h-6zM356 280h7v5h-7zM375 280h6v5h-6zM40 285h6v5h-6zM102 285h6v5h-6zM189 285h6v5h-6zM245 285h12v5h-12zM288 285h6v5h-6zM350 285h6v5h-6zM363 285h6v5h-6zM0 290h3v5h-3zM34 290h12v5h-12zM96 290h6v5h-6zM189 290h6v5h-6zM238 290h7v5h-7zM288 290h19v5h-19zM350 290h6v5h-6zM0 295h3v5h-3zM15 295h6v5h-6zM27 295h13v5h-13zM96 295h12v5h-12zM189 295h6v5h-6zM238 295h7v5h-7zM288 295h31v5h-31zM344 295h6v5h-6zM34 300h6v5h-6zM96 300h25v5h-25zM183 300h12v5h-12zM238 300h7v5h-7zM282 300h6v5h-6zM319 300h6v5h-6zM338 300h18v5h-18zM27 305h13v6h-13zM89 305h13v6h-13zM176 305h25v6h-25zM238 305h50v6h-50zM301 305h18v6h-18zM0 311h3v5h-3zM21 311h13v5h-13zM89 311h13v5h-13zM195 311h6v5h-6zM245 311h18v5h-18zM0 316h34v5h-34zM89 316h13v5h-13zM195 316h6v5h-6zM251 316h6v5h-6zM443 316h6v5h-6zM0 321h34v5h-34zM96 321h6v5h-6zM189 321h6v5h-6zM251 321h12v5h-12zM350 321h6v5h-6zM34 326h6v5h-6zM96 326h12v5h-12zM152 326h12v5h-12zM176 326h7v5h-7zM226 326h37v5h-37zM344 326h12v5h-12zM34 331h6v5h-6zM102 331h12v5h-12zM201 331h13v5h-13zM257 331h6v5h-6zM269 331h7v5h-7zM307 331h31v5h-31zM356 331h19v5h-19zM400 331h6v5h-6zM21 336h6v5h-6zM102 336h12v5h-12zM139 336h13v5h-13zM201 336h13v5h-13zM282 336h6v5h-6zM0 341h15v5h-15zM108 341h13v5h-13zM127 341h12v5h-12zM201 341h37v5h-37zM276 341h6v5h-6zM363 341h12v5h-12zM207 346h25v6h-25zM319 346h37v6h-37zM375 346h19v6h-19zM207 352h13v5h-13zM307 352h6v5h-6zM400 352h18v5h-18zM431 352h18v5h-18zM207 357h19v4h-19zM257 357h31v4h-31z"/>
<path fill="#8906f7" d="M176 0h25v2h-25zM232 0h6v2h-6zM282 0h6v2h-6zM294 0h7v2h-7zM406 0h12v2h-12zM40 2h12v6h-12zM58 2h7v6h-7zM170 2h6v6h-6zM406 2h12v6h-12zM27 8h7v5h-7zM77 8h6v5h-6zM133 8h25v5h-25zM406 8h12v5h-12zM387 13h25v5h-25zM332 18h18v5h-18zM307 23h12v5h-12zM406 23h12v5h-12zM425 23h6v5h-6zM406 28h12v5h-12zM406 33h6v5h-6zM400 38h12v6h-12zM313 44h12v5h-12zM338 44h25v5h-25zM406 44h6v5h-6zM406 49h6v5h-6zM381 54h13v5h-13zM0 59h3v5h-3zM356 59h7v5h-7zM406 59h12v5h-12zM431 59h6v5h-6zM400 74h6v5h-6zM425 74h6v5h-6zM431 79h6v6h-6zM443 85h6v5h-6zM443 90h6v5h-6zM0 95h3v5h-3zM443 95h6v5h-6zM0 100h3v5h-3zM443 100h6v5h-6zM0 105h3v5h-3zM443 105h6v5h-6zM269 126h7v5h-7zM226 131h12v5h-12zM0 136h3v5h-3zM232 136h19v5h-19zM443 136h6v5h-6zM226 141h19v5h-19zM238 146h7v5h-7zM58 151h7v6h-7zM46 157h6v5h-6zM34 162h6v5h-6zM77 172h6v5h-6zM77 177h6v5h-6zM77 182h6v5h-6zM40 187h6v5h-6zM52 192h6v6h-6zM58 198h13v5h-13zM89 203h7v5h-7zM89 208h7v5h-7zM214 228h6v6h-6zM338 228h6v6h-6zM226 234h6v5h-6zM34 244h6v5h-6zM52 244h6v5h-6zM96 244h6v5h-6zM34 249h12v5h-12zM226 254h6v5h-6zM251 254h6v5h-6zM251 259h6v5h-6zM332 259h6v5h-6zM356 259h7v5h-7zM375 259h6v5h-6zM58 264h13v5h-13zM344 264h6v5h-6zM375 264h6v5h-6zM40 269h6v6h-6zM195 269h6v6h-6zM40 275h18v5h-18zM96 275h6v5h-6zM195 275h12v5h-12zM251 275h6v5h-6zM363 275h6v5h-6zM46 280h12v5h-12zM96 280h6v5h-6zM195 280h12v5h-12zM245 280h6v5h-6zM257 280h6v5h-6zM369 280h6v5h-6zM46 285h6v5h-6zM96 285h6v5h-6zM195 285h12v5h-12zM238 285h7v5h-7zM46 290h6v5h-6zM89 290h7v5h-7zM195 290h12v5h-12zM232 290h6v5h-6zM307 290h6v5h-6zM40 295h12v5h-12zM89 295h7v5h-7zM195 295h12v5h-12zM40 300h6v5h-6zM89 300h7v5h-7zM195 300h12v5h-12zM301 300h6v5h-6zM40 305h6v6h-6zM83 305h6v6h-6zM201 305h6v6h-6zM288 305h13v6h-13zM34 311h6v5h-6zM83 311h6v5h-6zM201 311h6v5h-6zM34 316h6v5h-6zM83 316h6v5h-6zM201 316h6v5h-6zM245 316h6v5h-6zM34 321h6v5h-6zM65 321h6v5h-6zM83 321h13v5h-13zM201 321h6v5h-6zM245 321h6v5h-6zM40 326h6v5h-6zM183 326h6v5h-6zM201 326h6v5h-6zM214 326h12v5h-12zM356 326h7v5h-7zM96 331h6v5h-6zM152 331h18v5h-18zM27 336h7v5h-7zM96 336h6v5h-6zM15 341h6v5h-6zM102 341h6v5h-6zM139 341h6v5h-6zM102 346h25v6h-25zM201 346h6v6h-6zM201 352h6v5h-6zM313 352h6v5h-6zM394 352h6v5h-6zM288 357h6v4h-6zM418 357h19v4h-19z"/>
<path fill="#970bce" d="M288 0h6v2h-6zM418 0h7v2h-7zM34 2h6v6h-6zM52 2h6v6h-6zM164 2h6v6h-6zM418 2h7v6h-7zM21 8h6v5h-6zM412 13h6v5h-6zM9 18h12v5h-12zM350 18h37v5h-37zM400 18h18v5h-18zM437 18h12v5h-12zM319 23h6v5h-6zM332 23h24v5h-24zM400 23h6v5h-6zM418 23h7v5h-7zM313 28h25v5h-25zM350 28h13v5h-13zM400 28h6v5h-6zM313 33h25v5h-25zM344 33h19v5h-19zM400 33h6v5h-6zM313 38h6v6h-6zM338 38h25v6h-25zM375 54h6v5h-6zM406 54h6v5h-6zM437 59h6v5h-6zM431 69h6v5h-6zM406 74h19v5h-19zM431 74h6v5h-6zM437 79h12v6h-12zM0 90h3v5h-3zM0 110h3v5h-3zM443 110h6v5h-6zM226 126h6v5h-6zM238 126h13v5h-13zM220 136h12v5h-12zM437 136h6v5h-6zM65 151h18v6h-18zM52 157h13v5h-13zM40 162h6v5h-6zM40 177h6v5h-6zM40 182h6v5h-6zM77 187h6v5h-6zM46 192h6v6h-6zM58 192h7v6h-7zM207 228h7v6h-7zM220 234h6v5h-6zM207 239h7v5h-7zM21 244h13v5h-13zM58 244h7v5h-7zM207 244h7v5h-7zM46 249h6v5h-6zM96 254h6v5h-6zM201 254h6v5h-6zM220 254h6v5h-6zM189 259h6v5h-6zM232 259h19v5h-19zM363 259h12v5h-12zM71 264h12v5h-12zM238 264h19v5h-19zM332 264h12v5h-12zM245 269h18v6h-18zM363 269h18v6h-18zM207 275h7v5h-7zM245 275h6v5h-6zM375 275h6v5h-6zM89 280h7v5h-7zM207 280h7v5h-7zM238 280h7v5h-7zM251 280h6v5h-6zM269 280h7v5h-7zM363 280h6v5h-6zM52 285h6v5h-6zM89 285h7v5h-7zM207 285h7v5h-7zM232 285h6v5h-6zM356 285h7v5h-7zM83 290h6v5h-6zM207 290h7v5h-7zM344 290h6v5h-6zM83 295h6v5h-6zM207 295h7v5h-7zM232 295h6v5h-6zM46 300h6v5h-6zM83 300h6v5h-6zM288 300h13v5h-13zM307 300h12v5h-12zM46 305h6v6h-6zM77 305h6v6h-6zM40 311h12v5h-12zM77 311h6v5h-6zM40 316h12v5h-12zM77 316h6v5h-6zM40 321h12v5h-12zM195 321h6v5h-6zM226 321h19v5h-19zM46 326h6v5h-6zM89 326h7v5h-7zM207 326h7v5h-7zM40 331h6v5h-6zM89 331h7v5h-7zM170 331h6v5h-6zM34 336h6v5h-6zM21 341h6v5h-6zM96 341h6v5h-6zM96 346h6v6h-6zM127 346h6v6h-6zM356 346h7v6h-7zM369 346h6v6h-6zM325 352h7v5h-7zM344 352h6v5h-6zM381 352h13v5h-13zM201 357h6v4h-6zM294 357h13v4h-13zM406 357h12v4h-12zM437 357h6v4h-6z"/>
<path fill="#a11096" d="M58 0h19v2h-19zM170 0h6v2h-6zM201 0h31v2h-31zM83 2h50v6h-50zM158 2h6v6h-6zM418 8h7v5h-7zM0 18h9v5h-9zM387 18h13v5h-13zM431 18h6v5h-6zM325 23h7v5h-7zM338 28h12v5h-12zM363 28h6v5h-6zM363 33h6v5h-6zM319 38h19v6h-19zM363 38h6v6h-6zM363 44h6v5h-6zM381 44h13v5h-13zM381 49h13v5h-13zM363 54h12v5h-12zM394 54h12v5h-12zM443 59h6v5h-6zM437 74h6v5h-6zM0 85h3v5h-3zM34 90h6v5h-6zM232 126h6v5h-6zM0 131h3v5h-3zM431 136h6v5h-6zM83 157h6v5h-6zM46 162h6v5h-6zM34 167h6v5h-6zM40 192h6v6h-6zM65 192h6v6h-6zM71 198h12v5h-12zM83 208h6v5h-6zM214 234h6v5h-6zM332 234h6v5h-6zM226 239h6v5h-6zM65 244h6v5h-6zM52 249h6v5h-6zM89 259h7v5h-7zM195 259h6v5h-6zM220 259h12v5h-12zM381 259h6v5h-6zM40 264h6v5h-6zM46 269h19v6h-19zM232 269h13v6h-13zM232 275h13v5h-13zM369 275h6v5h-6zM232 280h6v5h-6zM83 285h6v5h-6zM77 295h6v5h-6zM350 295h6v5h-6zM77 300h6v5h-6zM52 305h6v6h-6zM71 305h6v6h-6zM52 311h6v5h-6zM65 311h12v5h-12zM52 316h6v5h-6zM52 321h6v5h-6zM77 321h6v5h-6zM52 326h6v5h-6zM65 326h6v5h-6zM83 326h6v5h-6zM189 326h6v5h-6zM46 331h6v5h-6zM176 331h7v5h-7zM40 336h6v5h-6zM89 336h7v5h-7zM152 336h6v5h-6zM363 336h6v5h-6zM27 341h7v5h-7zM145 341h7v5h-7zM0 346h9v6h-9zM89 346h7v6h-7zM133 346h6v6h-6zM363 346h6v6h-6zM96 352h31v5h-31zM319 352h6v5h-6zM332 352h12v5h-12zM350 352h6v5h-6zM369 352h12v5h-12zM307 357h6v4h-6zM400 357h6v4h-6zM443 357h6v4h-6z"/>
<path fill="#ab174f" d="M46 0h12v2h-12zM27 2h7v6h-7zM77 2h6v6h-6zM133 2h25v6h-25zM15 13h6v5h-6zM443 13h6v5h-6zM425 18h6v5h-6zM356 23h13v5h-13zM381 38h13v6h-13zM375 49h6v5h-6zM0 64h9v5h-9zM431 64h6v5h-6zM412 69h6v5h-6zM443 131h6v5h-6zM52 167h6v5h-6zM40 172h25v5h-25zM46 177h6v5h-6zM46 182h6v5h-6zM338 234h6v5h-6zM207 249h7v5h-7zM34 254h6v5h-6zM207 254h7v5h-7zM257 259h6v5h-6zM83 264h6v5h-6zM65 269h6v6h-6zM201 269h6v6h-6zM226 269h6v6h-6zM89 275h7v5h-7zM226 275h6v5h-6zM257 275h6v5h-6zM226 280h6v5h-6zM52 300h6v5h-6zM65 305h6v6h-6zM58 311h7v5h-7zM58 316h19v5h-19zM58 321h7v5h-7zM214 321h12v5h-12zM77 326h6v5h-6zM83 331h6v5h-6zM369 336h6v5h-6zM9 346h6v6h-6zM139 346h6v6h-6zM195 346h6v6h-6zM89 352h7v5h-7zM381 357h6v4h-6zM394 357h6v4h-6z"/>
<path fill="#b42000" d="M40 0h6v2h-6zM15 8h6v5h-6zM9 13h6v5h-6zM437 13h6v5h-6zM369 23h12v5h-12zM394 23h6v5h-6zM369 28h6v5h-6zM369 33h12v5h-12zM375 38h6v6h-6zM369 49h6v5h-6zM418 69h7v5h-7zM3 74h6v5h-6zM238 131h13v5h-13zM437 131h6v5h-6zM65 157h6v5h-6zM58 162h7v5h-7zM52 177h13v5h-13zM52 187h6v5h-6zM207 234h7v5h-7zM58 249h7v5h-7zM40 254h6v5h-6zM201 259h6v5h-6zM232 264h6v5h-6zM369 264h6v5h-6zM71 269h6v6h-6zM52 290h6v5h-6zM71 321h6v5h-6zM195 326h6v5h-6zM52 331h6v5h-6zM77 331h6v5h-6zM183 331h6v5h-6zM83 336h6v5h-6zM158 336h6v5h-6zM89 341h7v5h-7zM15 346h6v6h-6zM145 346h7v6h-7zM127 352h12v5h-12zM356 352h7v5h-7zM313 357h6v4h-6zM375 357h6v4h-6zM387 357h7v4h-7z"/>
<path fill="#bf2d00" d="M27 0h13v2h-13zM77 0h62v2h-62zM152 0h18v2h-18zM15 2h12v6h-12zM0 13h9v5h-9zM431 13h6v5h-6zM418 18h7v5h-7zM381 23h13v5h-13zM375 28h6v5h-6zM387 28h13v5h-13zM338 33h6v5h-6zM381 33h19v5h-19zM369 38h6v6h-6zM394 38h6v6h-6zM394 44h12v5h-12zM363 49h6v5h-6zM394 49h12v5h-12zM412 64h6v5h-6zM437 64h12v5h-12zM0 69h9v5h-9zM406 69h6v5h-6zM443 126h6v5h-6zM431 131h6v5h-6zM71 157h12v5h-12zM52 162h6v5h-6zM40 167h12v5h-12zM65 177h12v5h-12zM71 182h6v5h-6zM46 187h6v5h-6zM58 187h13v5h-13zM77 192h6v6h-6zM83 203h6v5h-6zM220 239h6v5h-6zM27 249h7v5h-7zM46 254h12v5h-12zM338 259h6v5h-6zM89 264h7v5h-7zM220 264h12v5h-12zM363 264h6v5h-6zM77 269h6v6h-6zM77 285h6v5h-6zM58 290h7v5h-7zM77 290h6v5h-6zM52 295h6v5h-6zM71 295h6v5h-6zM71 300h6v5h-6zM207 300h7v5h-7zM220 316h25v5h-25zM207 321h7v5h-7zM58 326h7v5h-7zM71 326h6v5h-6zM58 331h19v5h-19zM189 331h6v5h-6zM46 336h6v5h-6zM65 336h6v5h-6zM77 336h6v5h-6zM164 336h19v5h-19zM34 341h12v5h-12zM83 341h6v5h-6zM152 341h6v5h-6zM21 346h13v6h-13zM83 346h6v6h-6zM0 352h21v5h-21zM83 352h6v5h-6zM139 352h13v5h-13zM195 352h6v5h-6zM363 352h6v5h-6zM83 357h50v4h-50zM195 357h6v4h-6zM319 357h44v4h-44zM369 357h6v4h-6z"/>
<path fill="#c93d00" d="M15 0h12v2h-12zM139 0h13v2h-13zM0 8h15v5h-15zM431 8h18v5h-18zM418 13h13v5h-13zM381 28h6v5h-6zM369 44h12v5h-12zM406 64h6v5h-6zM437 69h6v5h-6zM437 126h6v5h-6zM65 162h18v5h-18zM58 167h7v5h-7zM65 172h12v5h-12zM52 182h19v5h-19zM71 192h6v6h-6zM214 239h6v5h-6zM220 244h6v5h-6zM27 254h7v5h-7zM34 259h24v5h-24zM207 259h7v5h-7zM195 264h12v5h-12zM83 269h13v6h-13zM220 269h6v6h-6zM58 275h25v5h-25zM220 275h6v5h-6zM220 280h6v5h-6zM226 285h6v5h-6zM58 295h7v5h-7zM220 311h25v5h-25zM207 316h13v5h-13zM195 331h6v5h-6zM52 336h13v5h-13zM71 336h6v5h-6zM183 336h12v5h-12zM46 341h6v5h-6zM65 341h18v5h-18zM158 341h18v5h-18zM34 346h6v6h-6zM71 346h12v6h-12zM152 346h6v6h-6zM21 352h13v5h-13zM71 352h12v5h-12zM0 357h21v4h-21zM71 357h12v4h-12zM133 357h12v4h-12zM363 357h6v4h-6z"/>
<path fill="#d55700" d="M0 2h15v6h-15zM431 2h18v6h-18zM425 8h6v5h-6zM443 69h6v5h-6zM0 74h3v5h-3zM437 121h12v5h-12zM65 167h18v5h-18zM71 187h6v5h-6zM214 244h6v5h-6zM214 249h12v5h-12zM207 264h13v5h-13zM83 275h6v5h-6zM214 275h6v5h-6zM58 280h19v5h-19zM214 280h6v5h-6zM58 300h7v5h-7zM220 305h18v6h-18zM207 311h13v5h-13zM195 336h6v5h-6zM52 341h13v5h-13zM176 341h19v5h-19zM40 346h12v6h-12zM65 346h6v6h-6zM158 346h12v6h-12zM34 352h6v5h-6zM152 352h6v5h-6zM21 357h13v4h-13zM145 357h7v4h-7z"/>
<path fill="#e17900" d="M0 0h15v2h-15zM437 0h12v2h-12zM425 2h6v6h-6zM443 74h6v5h-6zM0 79h3v6h-3zM443 115h6v6h-6zM214 254h6v5h-6zM214 259h6v5h-6zM46 264h12v5h-12zM207 269h13v6h-13zM77 280h12v5h-12zM58 285h19v5h-19zM65 300h6v5h-6zM220 300h18v5h-18zM58 305h7v6h-7zM207 305h13v6h-13zM195 341h6v5h-6zM52 346h13v6h-13zM170 346h19v6h-19zM40 352h12v5h-12zM65 352h6v5h-6zM158 352h12v5h-12zM34 357h6v4h-6zM65 357h6v4h-6zM152 357h6v4h-6z"/>
<path fill="#eca200" d="M425 0h12v2h-12zM65 290h12v5h-12zM220 295h12v5h-12zM214 300h6v5h-6zM189 346h6v6h-6zM52 352h13v5h-13zM170 352h19v5h-19zM40 357h12v4h-12zM158 357h12v4h-12z"/>
<path fill="#f6cd00" d="M214 295h6v5h-6zM189 352h6v5h-6zM52 357h6v4h-6zM170 357h19v4h-19z"/>
<path fill="#ffff00" d="M214 285h12v5h-12zM214 290h18v5h-18zM65 295h6v5h-6zM58 357h7v4h-7zM189 357h6v4h-6z"/>
</svg><svg width="449" height="361" viewBox="0 0 449 361"><path fill="none" stroke="#40e0d0" stroke-width="1" shape-rendering="crispEdges" d="M14.4 44.9L16.9 39.3L20.6 37.9L28.7 33.2L36.7 34.8L47.9 36.7L55.4 37.9L64.1 35.8L67.8 36.9L74.0 36.9L80.2 40.0L86.4 40.0L88.9 41.0L96.3 40.0L101.3 38.9L105.0 40.0L106.3 35.8L103.8 32.8L106.3 31.7L111.2 37.9L113.7 40.0L117.4 36.9L121.2 36.9L122.4 40.0L121.2 43.0L116.2 44.1L114.9 47.1L111.2 48.2L107.5 52.3L105.6 58.4L108.1 62.5L113.7 63.6L117.4 66.0L121.2 66.7L121.2 71.8L123.6 74.3L124.9 72.8L124.9 67.7L127.4 63.6L125.5 59.1L126.7 56.4L126.1 51.5L131.7 51.9L136.1 54.3L136.7 58.4L139.8 59.5L142.3 55.8L146.0 61.5L148.5 66.7L152.2 70.8L153.4 73.8L148.5 76.9L141.0 76.9L136.1 83.1L142.3 79.0L142.9 83.1L147.2 85.1L143.5 88.2L141.0 90.3L139.8 87.2L136.1 89.9L135.4 93.4L131.1 96.4L129.2 99.5L128.6 103.6L129.0 107.3L126.1 109.8L122.4 113.9L122.0 118.0L123.6 124.6L123.0 127.9L121.2 124.2L120.2 120.1L118.7 118.0L116.2 117.4L112.5 117.6L111.8 119.6L110.0 119.4L106.3 119.0L102.5 122.1L101.9 127.2L101.5 133.4L103.8 140.6L105.6 142.2L108.7 141.4L110.6 136.5L114.9 135.5L114.3 140.6L113.3 146.8L116.2 147.2L119.5 148.8L119.0 157.0L120.5 161.1L123.6 160.7L124.9 160.1L127.0 162.2L129.2 157.8L132.3 156.4L134.2 154.1L133.8 159.1L136.1 156.0L138.5 158.1L143.5 158.1L146.0 157.6L148.5 162.2L152.2 167.3L155.9 167.7L159.0 170.4L160.9 177.6L160.9 179.6L163.4 181.7L167.7 184.8L172.1 185.8L176.4 189.5L179.3 190.9L179.5 196.0L177.0 202.2L174.5 206.3L174.5 214.5L174.7 221.9L173.3 226.2L169.9 228.7L164.1 233.6L162.5 240.4L158.3 250.3L151.7 257.9L145.9 265.3L140.9 273.7L138.3 280.3L137.5 287.0L139.2 289.5L142.0 293.4L137.5 292.8L134.2 287.9L132.9 283.7L133.3 268.8L134.7 251.9L136.3 238.8L136.7 221.9L135.8 217.6L133.6 214.5L128.6 208.4L127.1 204.3L124.9 196.0L122.4 191.9L122.1 188.9L123.6 186.4L122.6 184.1L123.6 179.6L125.1 176.5L126.7 171.4L126.9 165.2L125.5 161.5L123.6 164.6L122.4 163.2L119.9 162.6L117.4 159.1L116.2 156.0L114.3 152.9L111.2 151.5L108.7 149.2L105.6 146.3L103.2 147.4L98.8 144.7L94.5 142.0L92.0 138.5L92.2 134.4L88.9 128.3L87.0 124.2L83.9 120.1L82.7 115.3L80.6 114.9L80.8 118.0L83.3 123.1L85.8 129.3L87.0 132.4L83.9 128.7L81.4 123.1L79.6 118.0L77.7 112.9L75.8 109.8L73.4 108.8L71.5 104.2L70.3 101.6L69.0 96.8L68.6 91.3L69.0 84.7L68.3 80.4L70.3 79.0L67.8 76.9L64.7 74.9L63.4 70.8L60.9 67.7L59.1 63.6L56.0 60.1L52.9 58.8L49.2 56.8L44.2 56.4L40.5 54.3L37.4 56.8L35.5 54.7L32.4 57.8L30.5 60.5L28.1 63.2L24.3 65.6L20.6 67.1L23.7 64.6L27.4 58.8L24.3 59.1L21.8 56.8L18.7 55.4L16.9 52.3L18.4 50.2L23.1 49.2L23.1 47.1L18.7 47.1L16.3 46.7L14.4 44.9M13.8 44.1L10.7 43.0L8.2 42.0L4.5 40.0L-0.5 37.9M-0.5 46.1L2.0 45.1L4.5 46.5L8.2 47.6L9.4 45.5L11.9 44.1L13.8 44.1M263.3 115.9L258.9 116.2L254.0 114.7L250.3 112.2L247.8 113.7L246.5 117.4L242.2 114.9L241.6 113.1L239.1 112.0L236.6 110.8L235.4 109.8L236.4 106.7L236.6 103.6L235.4 103.0L231.6 103.6L226.7 104.0L222.9 106.1L220.5 107.3L216.1 106.1L215.5 106.3L213.5 110.6L211.0 117.2L210.5 120.1L206.8 122.7L204.9 126.2L203.1 130.3L201.8 136.5L202.7 140.6L202.5 146.8L201.2 149.4L202.2 153.9L204.3 157.0L206.4 161.1L207.4 164.2L209.5 166.5L213.6 170.6L218.0 168.9L220.5 169.8L224.2 167.7L227.9 166.7L229.8 170.4L231.6 170.6L233.9 170.4L235.0 172.4L234.7 177.6L234.1 181.1L235.4 185.8L237.6 189.5L238.2 191.9L239.5 197.7L240.1 202.2L238.5 207.3L237.6 213.5L238.5 217.6L240.8 225.8L241.6 234.0L243.4 238.4L245.3 245.3L245.8 249.4L247.8 251.1L250.9 249.4L254.9 249.4L257.7 247.0L261.2 241.2L263.3 237.1L263.8 232.6L266.9 228.9L266.8 222.7L266.1 220.3L268.9 215.6L271.4 213.5L273.3 210.4L273.2 202.2L271.7 195.0L271.2 191.9L272.0 188.9L273.8 183.7L276.3 178.6L280.1 173.9L282.5 169.3L285.0 162.2L286.5 155.4L283.8 156.4L278.8 158.1L276.7 155.6L275.7 152.9L272.6 148.8L271.4 146.8L269.5 141.6L269.1 136.5L267.3 130.7L265.2 124.2L263.5 118.6L263.3 115.9M446.4 37.9L440.2 36.3L434.0 36.9L427.8 36.9L421.6 36.5L415.4 33.8L409.2 31.7L402.9 30.7L396.7 30.1L390.5 32.8L384.3 33.8L381.8 29.7L375.6 29.7L369.4 28.7L363.2 27.6L359.5 27.6L355.8 22.5L352.1 20.0L347.1 22.9L340.9 23.5L332.2 25.0L324.7 27.6L322.3 29.7L316.1 30.7L313.6 37.9L312.9 43.0L314.2 38.9L309.8 29.7L306.1 37.9L298.7 36.5L292.5 39.7L286.3 41.4L282.3 43.6L280.8 40.6L279.7 44.5L276.1 47.6L268.3 47.6L265.9 44.9L273.7 44.3L276.1 43.0L272.2 40.6L265.9 37.5L259.7 35.2L251.9 36.7L245.7 40.6L241.7 45.3L237.0 50.0L233.1 54.7L232.4 58.6L235.5 61.7L240.2 60.9L243.3 64.8L246.4 62.5L248.0 57.0L248.0 51.5L251.9 47.6L254.2 46.9L251.9 51.5L253.5 57.0L260.4 58.6L255.0 63.2L249.5 67.1L245.7 69.5L240.2 69.5L237.8 65.6L234.7 65.6L233.1 70.3L228.4 74.9L225.3 77.3L219.8 80.4L222.2 84.3L220.6 87.4L216.7 91.3L214.4 95.2L213.6 99.1L215.1 103.0L216.7 105.5L220.6 104.6L224.6 101.6L226.9 96.0L230.0 92.9L233.9 91.3L237.8 92.9L241.7 94.6L244.1 97.7L246.4 99.9L248.0 98.5L242.6 89.9L246.4 92.1L248.8 96.0L251.1 100.7L251.9 103.8L254.2 103.0L253.5 98.5L257.3 99.1L258.9 103.8L264.4 106.7L265.2 104.6L267.6 104.2L267.6 106.7L267.0 110.8L266.1 113.9L265.4 115.3L263.3 115.9M263.3 118.0L265.8 122.1L266.1 119.0L266.4 122.1L268.9 127.2L270.7 132.4L271.6 136.5L273.8 141.6L276.1 148.8L276.7 153.5L278.8 153.3L282.5 150.9L287.5 146.8L291.2 143.7L294.3 140.6L295.8 137.5L297.2 133.4L295.6 130.9L293.1 129.3L292.8 125.8L292.5 128.3L290.0 129.9L287.3 130.3L286.9 126.2L285.0 125.2L283.2 121.1L282.5 118.0L285.0 118.0L286.3 122.1L288.7 124.2L292.5 124.2L293.7 126.8L298.7 127.9L302.4 127.7L305.3 130.3L313.9 138.9L317.0 151.5L320.3 161.5L324.0 153.9L330.2 144.1L336.5 136.1L341.5 144.1L345.2 149.0L347.0 159.1L348.5 166.5L351.6 172.8L350.8 165.2L348.9 153.9L351.6 151.5L354.5 156.4L356.5 159.1L358.5 147.8L360.2 138.9L364.0 135.3L369.1 132.0L375.3 127.7L375.8 116.6L375.3 106.5L371.5 100.3L376.5 97.7L379.5 104.0L381.5 107.7L384.0 100.3L386.6 94.0L394.0 86.6L399.0 79.0L388.1 91.7L391.2 88.2L394.3 83.1L397.1 76.9L398.0 71.8L396.7 68.7L393.6 68.7L390.8 67.1L394.3 63.6L398.0 59.1L401.1 57.8L406.7 57.6L411.6 58.4L415.4 57.8L417.8 53.3L421.6 52.9L425.9 51.2L425.3 54.3L422.8 56.4L420.3 60.5L417.2 62.5L416.0 66.7L416.6 72.8L417.5 74.9L419.7 70.8L421.6 67.7L424.1 66.7L424.7 63.6L425.7 60.5L427.8 56.4L431.5 55.4L434.6 56.4L437.1 54.3L440.2 52.3L443.3 51.2L445.8 51.2L445.2 47.1L442.7 46.7L444.5 44.1L446.4 45.1M149.3 81.6L153.4 83.1L157.2 83.7L157.5 81.6L156.5 79.0L153.8 77.5L154.1 73.8L151.6 75.9L149.3 81.6M118.1 134.4L120.5 132.4L123.6 132.4L127.4 136.5L130.5 138.1L126.5 138.5L123.0 134.4L118.1 134.4M130.6 141.6L132.3 138.9L136.1 139.2L137.8 141.4L134.8 142.4L130.6 141.6M2.0 341.3L21.6 341.3L24.4 343.8M27.4 340.1L22.4 341.8M2.0 354.3L12.4 354.3L14.9 355.5L30.8 355.5L32.4 356.3L40.0 356.3L38.3 352.1L35.0 348.0L34.1 343.8L37.5 338.8L45.8 336.2L54.2 334.6L63.4 332.4L67.6 331.7L73.4 331.7L75.9 332.9L81.8 332.4L84.3 334.1L89.3 334.6L97.7 332.4L100.2 330.4L106.0 331.2M106.0 331.2L121.9 331.2L126.9 329.2L131.1 329.6L141.1 325.4L142.0 319.5L146.1 314.0L151.2 312.8L149.8 318.7L147.8 324.5L149.1 334.6L142.0 336.7L121.9 338.8L127.7 343.8L136.9 347.1L144.5 348.5L156.2 349.1L172.9 348.0L179.6 346.3L185.4 344.6L182.9 342.1L184.6 338.8L189.6 335.4L196.3 332.1L204.7 328.7L213.0 327.1M149.1 334.6L156.2 338.8L167.9 341.3L170.4 343.8L161.2 344.6L151.2 344.6L145.3 346.8M156.2 342.9L162.9 340.4L182.9 340.1M131.9 327.1L137.8 322.9L138.6 326.2L135.3 329.6L131.9 327.1M213.0 327.1L218.0 324.5L223.0 322.4L228.9 324.5L249.8 324.5L256.5 325.7L263.2 322.9L271.5 323.7L276.5 320.4L281.6 318.4L286.6 317.9L290.8 316.2L296.6 318.4L303.3 319.5L310.8 321.2L311.7 324.5L315.0 323.4L320.0 323.4M213.0 328.7L223.0 327.9L228.9 325.4M320.0 323.4L326.7 318.7L330.9 317.9L345.1 317.4L350.1 316.2L365.2 316.7L370.2 318.7L378.5 316.7L393.6 316.7L400.3 317.9L407.0 320.4M401.6 318.2L411.4 321.7L424.1 323.8L432.5 327.3L436.7 328.4L431.1 334.3L428.3 340.0L426.2 342.1L429.7 347.0L432.5 350.5L438.1 351.2L442.4 352.4M428.3 340.0L433.9 339.3L440.9 340.0L448.0 341.7M367.0 225.2L374.5 218.5L381.5 210.2L384.0 211.5L389.0 203.5L392.8 206.5L396.5 214.5L401.0 202.8L405.2 212.8L409.0 221.5L414.0 234.0L412.0 247.8L409.0 255.2L403.5 259.5L398.5 257.8L392.8 250.2L387.8 244.0L381.5 246.5L374.5 249.0L369.0 247.8L367.0 239.0L367.0 225.2M404.5 265.2L408.5 267.8L406.0 269.0L404.5 265.2M439.0 250.2L441.5 255.2L444.0 261.0L442.0 257.8L439.0 250.2M439.0 265.2L440.2 269.0L434.0 275.2L436.5 270.2L439.0 265.2M387.8 183.5L391.5 185.2L400.2 185.2L411.5 201.5L399.0 195.2L390.2 187.8L387.8 183.5M342.8 168.5L350.2 179.0L356.0 186.0L350.2 186.0L347.8 177.8L342.8 168.5M370.2 166.5L371.0 177.8L367.0 187.0L360.8 182.8L365.2 174.0L370.2 166.5M356.5 194.0L361.5 195.2L366.5 196.5L360.2 196.5L356.5 194.0M377.8 161.5L380.2 166.5L376.5 166.5L377.8 161.5M285.2 206.5L286.5 216.5L280.2 232.8L279.0 221.5L285.2 206.5M400.8 68.7L402.5 75.3L402.0 81.2L400.3 85.3L400.0 81.2L400.8 75.3L400.8 68.7M400.3 89.5L403.3 91.2L400.8 92.8L400.3 89.5M399.2 93.7L398.3 99.5L394.7 103.3L390.0 106.7L386.3 110.7L385.3 112.8L387.0 115.7L388.7 112.0L390.0 109.5L397.5 107.8L399.5 101.2L399.2 93.7M375.2 142.8L376.5 144.0L376.0 151.5L374.8 149.0L375.2 142.8M377.8 161.5L380.2 160.2L379.0 167.8L377.0 165.2L377.8 161.5M372.2 157.8L373.2 158.5M322.8 162.8L324.0 166.5L322.8 167.8L322.8 162.8M316.5 89.0L322.8 85.2M258.9 98.4L262.0 91.4L267.5 87.5L274.5 84.3L274.5 90.6L272.2 96.1L265.9 96.8L260.5 96.4L258.9 98.4M286.2 85.1L289.4 85.1L290.2 91.4L291.7 100.8L287.8 102.0L285.5 97.6L284.7 89.8L286.2 85.1M298.8 85.9L301.1 85.9L300.0 91.4L298.8 89.0L298.8 85.9M216.7 60.1L218.3 60.9L220.6 62.5L221.9 67.2L223.8 71.1L226.1 75.4L223.0 77.3L219.8 76.5L222.2 75.0L219.8 71.1L218.3 68.7L215.2 69.5L213.6 73.4L212.8 70.3L215.9 65.6L215.9 61.7L216.7 60.1M235.5 95.3L236.2 98.4M240.9 102.3L243.3 102.3M196.0 45.2L200.2 44.0L205.2 44.8L205.2 47.8L199.0 49.0L196.0 47.0L196.0 45.2M113.2 13.2L118.2 11.5L129.0 9.8L140.7 9.3L144.8 10.3L146.5 12.7L141.5 15.7L135.7 19.0L129.0 20.7L124.0 19.8L129.0 16.5L120.7 15.7L119.0 18.2L116.5 22.3L124.0 24.8L118.2 25.7L113.2 24.0L114.8 20.7L118.2 18.7L117.7 15.7L113.2 13.2M106.5 24.0L112.3 25.7L124.0 25.7L125.7 28.2L117.3 29.8L114.8 34.8L119.0 32.3L127.3 31.5L134.0 34.8L139.0 38.2L144.8 41.5L146.5 44.8L144.0 47.3L140.7 44.8L143.2 49.0L137.3 50.7L129.0 48.2L134.0 44.8L137.3 43.2L132.3 40.7L127.3 37.3L122.3 38.2L114.8 40.7L114.8 34.8M80.7 24.0L85.7 19.8L91.5 24.0L89.0 26.0L85.7 26.5L80.7 24.0M95.7 17.3L99.8 20.7L97.3 22.3L95.7 17.3M100.3 24.0L101.5 25.7L99.0 25.7L100.3 24.0M79.0 32.3L84.0 31.5L90.7 32.3L99.0 36.5L95.7 39.0L91.5 43.2L87.3 42.7L82.3 39.0L79.0 37.3M89.8 29.8L92.3 32.3L90.7 33.2L89.8 29.8M99.0 29.0L102.3 34.0L99.8 33.2L99.0 29.0M106.5 29.0L109.8 29.8L107.3 30.7L106.5 29.0M104.0 34.0L109.0 34.8L114.0 39.0L111.5 39.8L106.5 38.2L104.0 34.0M119.0 45.7L123.2 49.0L120.7 51.5L119.0 45.7M240.8 17.8L244.5 16.6L250.6 16.6L259.8 16.0L256.1 17.2L252.4 18.5L254.3 21.5L250.6 20.3L245.1 23.4L244.5 21.5L242.6 20.3L240.8 17.8M278.3 16.0L282.6 15.4L287.5 15.7M290.2 31.5L295.2 27.8L302.8 24.5L310.2 22.8L304.0 26.5L297.8 30.2L292.8 35.2L290.2 31.5M146.5 12.7L152.3 12.0L165.7 11.0L177.3 8.7L192.8 9.5L196.5 14.0L207.8 13.5L199.0 17.8L200.2 21.5L195.2 26.5L196.5 30.2L191.5 32.8L192.8 37.8L184.0 40.2L181.5 44.0L174.0 46.5L170.2 56.5L164.8 54.8L162.3 49.0L160.7 44.8L157.3 40.7L160.7 34.8L157.3 32.3L154.0 27.3L149.0 24.0L142.3 23.2L136.5 20.3M101.0 70.2L103.5 74.0L102.0 77.8M110.2 80.2L116.5 82.8L119.0 86.5L120.2 91.0L122.8 92.0L129.0 88.5M82.8 92.8L84.5 94.5M265.2 180.2L266.0 184.0L266.5 187.8"/></svg></div>
<div id="cb" style="background:linear-gradient(to bottom,#ffff00 0.00%,#fdf300 1.56%,#fbe800 3.12%,#f9dd00 4.69%,#f7d200 6.25%,#f5c800 7.81%,#f3be00 9.38%,#f1b400 10.94%,#efab00 12.50%,#eca200 14.06%,#ea9900 15.62%,#e89100 17.19%,#e68900 18.75%,#e48100 20.31%,#e17a00 21.88%,#df7200 23.44%,#dd6c00 25.00%,#db6500 26.56%,#d85f00 28.12%,#d65900 29.69%,#d35300 31.25%,#d14d00 32.81%,#cf4800 34.38%,#cc4300 35.94%,#ca3e00 37.50%,#c73a00 39.06%,#c43500 40.62%,#c23100 42.19%,#bf2d00 43.75%,#bd2a00 45.31%,#ba2600 46.88%,#b72300 48.44%,#b42000 50.00%,#b11d19 51.56%,#af1a32 53.12%,#ac184a 54.69%,#a91562 56.25%,#a61378 57.81%,#a3118e 59.38%,#9f0fa2 60.94%,#9c0db4 62.50%,#990cc5 64.06%,#960ad4 65.62%,#9209e1 67.19%,#8f08ec 68.75%,#8b07f4 70.31%,#8706fa 71.88%,#8305fe 73.44%,#8004ff 75.00%,#7b03fe 76.56%,#7703fa 78.12%,#7302f4 79.69%,#6e02ec 81.25%,#6a01e1 82.81%,#6501d4 84.38%,#6001c5 85.94%,#5a00b4 87.50%,#5400a2 89.06%,#4e008e 90.62%,#470078 92.19%,#400062 93.75%,#37004a 95.31%,#2d0032 96.88%,#200019 98.44%,#000000 100.00%)"><div class="ct" style="left:0;top:310px"></div><div class="ct" style="right:0;top:310px"></div><div class="ct" style="left:0;top:258px"></div><div class="ct" style="right:0;top:258px"></div><div class="ct" style="left:0;top:206px"></div><div class="ct" style="right:0;top:206px"></div><div class="ct" style="left:0;top:155px"></div><div class="ct" style="right:0;top:155px"></div><div class="ct" style="left:0;top:103px"></div><div class="ct" style="right:0;top:103px"></div><div class="ct" style="left:0;top:51px"></div><div class="ct" style="right:0;top:51px"></div></div>
<div class="t" id="xlabel" style="left:241.5px;top:458px;letter-spacing:0.08px;">Longitude / deg</div>
<div class="t" id="ylabel" style="left:0;top:0;transform-origin:0 0;transform:translate(6px,287px) rotate(-90deg);">Latitude / deg</div>
<div class="t" id="cblabel" style="left:0;top:0;transform-origin:0 0;transform:translate(592px,318px) rotate(-90deg);">StdDev-VTEC / TECU</div>
</body></html>
